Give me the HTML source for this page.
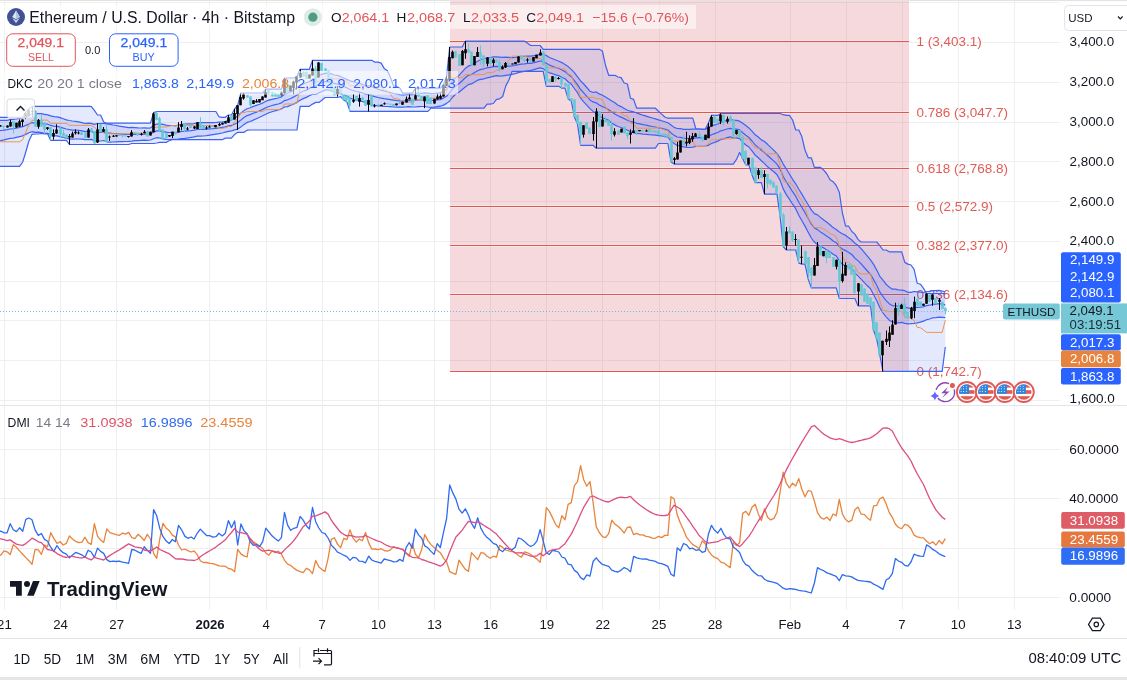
<!DOCTYPE html>
<html><head><meta charset="utf-8"><title>ETHUSD Chart</title>
<style>
html,body{margin:0;padding:0;background:#fff;}
body{width:1127px;height:680px;overflow:hidden;position:relative;font-family:"Liberation Sans",Arial,sans-serif;}
svg text{font-family:"Liberation Sans",Arial,sans-serif;}
svg{will-change:transform;}
</style></head><body>
<svg width="1127" height="680" viewBox="0 0 1127 680" style="position:absolute;left:0;top:0">
<rect x="0" y="0" width="1127" height="680" fill="#ffffff"/>
<rect x="0" y="0" width="1127" height="1" fill="#e3e3e3"/>
<path d="M4.5 1V405M4.5 406V610M60.5 1V405M60.5 406V610M116.5 1V405M116.5 406V610M209.5 1V405M209.5 406V610M266.5 1V405M266.5 406V610M322.5 1V405M322.5 406V610M378.5 1V405M378.5 406V610M434.5 1V405M434.5 406V610M490.5 1V405M490.5 406V610M546.5 1V405M546.5 406V610M602.5 1V405M602.5 406V610M659.5 1V405M659.5 406V610M715.5 1V405M715.5 406V610M790.5 1V405M790.5 406V610M846.5 1V405M846.5 406V610M902.5 1V405M902.5 406V610M958.5 1V405M958.5 406V610M1014.5 1V405M1014.5 406V610M0 2.5H1060M0 42.5H1060M0 82.5H1060M0 122.5H1060M0 161.5H1060M0 201.5H1060M0 241.5H1060M0 281.5H1060M0 320.5H1060M0 360.5H1060M0 400.5H1060M0 449.5H1060M0 498.5H1060M0 548.5H1060M0 597.5H1060" stroke="#efefef" stroke-width="1" fill="none"/>
<rect x="450" y="1" width="459" height="39.7" fill="rgba(210,65,80,0.2)"/>
<rect x="450" y="42.3" width="459" height="69.4" fill="rgba(210,65,80,0.2)"/>
<rect x="450" y="113.3" width="459" height="54.4" fill="rgba(210,65,80,0.2)"/>
<rect x="450" y="169.3" width="459" height="36.4" fill="rgba(210,65,80,0.2)"/>
<rect x="450" y="207.3" width="459" height="37.4" fill="rgba(210,65,80,0.2)"/>
<rect x="450" y="246.3" width="459" height="47.4" fill="rgba(210,65,80,0.2)"/>
<rect x="450" y="295.3" width="459" height="75.4" fill="rgba(210,65,80,0.2)"/>
<path d="M450 41.5H909M450 112.5H909M450 168.5H909M450 206.5H909M450 245.5H909M450 294.5H909M450 371.5H909" stroke="#de5a50" stroke-width="1" fill="none"/>
<text x="916.5" y="45.9" font-size="12.6" fill="#e05c57" textLength="65.3" lengthAdjust="spacingAndGlyphs">1 (3,403.1)</text>
<text x="916.5" y="116.9" font-size="12.6" fill="#e05c57" textLength="91.6" lengthAdjust="spacingAndGlyphs">0.786 (3,047.7)</text>
<text x="916.5" y="172.9" font-size="12.6" fill="#e05c57" textLength="91.6" lengthAdjust="spacingAndGlyphs">0.618 (2,768.8)</text>
<text x="916.5" y="210.9" font-size="12.6" fill="#e05c57" textLength="76.6" lengthAdjust="spacingAndGlyphs">0.5 (2,572.9)</text>
<text x="916.5" y="249.9" font-size="12.6" fill="#e05c57" textLength="91.6" lengthAdjust="spacingAndGlyphs">0.382 (2,377.0)</text>
<text x="916.5" y="298.9" font-size="12.6" fill="#e05c57" textLength="91.6" lengthAdjust="spacingAndGlyphs">0.236 (2,134.6)</text>
<text x="916.5" y="375.9" font-size="12.6" fill="#e05c57" textLength="65.3" lengthAdjust="spacingAndGlyphs">0 (1,742.7)</text>
<polygon points="-5.4,116.4 -2.3,116.4 0.8,117.3 4.0,117.3 7.1,117.3 10.2,117.3 13.3,117.3 16.4,117.3 19.6,117.3 22.7,117.3 25.8,112.0 28.9,109.0 32.0,106.4 35.1,106.4 38.3,106.4 41.4,106.4 44.5,106.4 47.6,106.4 50.7,106.4 53.8,106.4 57.0,106.4 60.1,106.4 63.2,106.4 66.3,106.4 69.4,106.4 72.5,106.4 75.7,106.4 78.8,106.4 81.9,106.4 85.0,106.4 88.1,106.4 91.2,106.4 94.4,110.3 97.5,115.0 100.6,115.0 103.7,122.0 106.8,123.2 109.9,123.2 113.1,123.2 116.2,123.2 119.3,123.2 122.4,123.2 125.5,123.2 128.6,123.2 131.8,123.2 134.9,123.2 138.0,123.2 141.1,123.2 144.2,123.2 147.3,123.2 150.5,123.2 153.6,112.6 156.7,111.5 159.8,111.5 162.9,111.5 166.0,111.5 169.2,111.5 172.3,111.5 175.4,111.5 178.5,111.5 181.6,111.5 184.8,111.5 187.9,111.5 191.0,111.5 194.1,111.5 197.2,111.5 200.3,111.5 203.5,111.5 206.6,111.5 209.7,111.5 212.8,111.5 215.9,111.5 219.0,116.8 222.2,117.3 225.3,117.3 228.4,115.0 231.5,115.0 234.6,109.0 237.7,105.2 240.9,93.0 244.0,93.0 247.1,93.0 250.2,93.0 253.3,93.0 256.4,93.0 259.6,93.0 262.7,93.0 265.8,89.2 268.9,89.2 272.0,89.2 275.1,89.2 278.3,89.2 281.4,89.2 284.5,78.0 287.6,78.0 290.7,78.0 293.8,78.0 297.0,76.5 300.1,69.3 303.2,69.3 306.3,69.3 309.4,69.3 312.5,60.3 315.7,60.3 318.8,60.3 321.9,60.3 325.0,60.3 328.1,60.3 331.3,60.3 334.4,60.3 337.5,60.3 340.6,60.3 343.7,60.3 346.8,60.3 350.0,60.3 353.1,60.3 356.2,60.3 359.3,60.3 362.4,60.3 365.5,60.3 368.7,60.3 371.8,60.3 374.9,62.2 378.0,62.2 381.1,63.1 384.2,68.4 387.4,70.8 390.5,77.5 393.6,86.1 396.7,86.1 399.8,88.0 402.9,93.2 406.1,93.2 409.2,93.2 412.3,93.2 415.4,88.2 418.5,88.2 421.6,88.2 424.8,88.2 427.9,88.2 431.0,88.2 434.1,88.2 437.2,88.2 440.3,88.2 443.5,84.7 446.6,75.9 449.7,47.0 452.8,47.0 455.9,47.0 459.0,47.0 462.2,47.0 465.3,41.1 468.4,41.1 471.5,41.1 474.6,41.1 477.7,41.1 480.9,41.1 484.0,41.1 487.1,41.1 490.2,41.1 493.3,41.1 496.5,41.1 499.6,41.1 502.7,41.1 505.8,41.1 508.9,41.1 512.0,41.1 515.2,41.1 518.3,41.1 521.4,41.1 524.5,41.1 527.6,43.3 530.7,45.5 533.9,45.5 537.0,45.5 540.1,45.5 543.2,49.3 546.3,49.3 549.4,49.3 552.6,49.3 555.7,49.3 558.8,49.3 561.9,49.3 565.0,49.3 568.1,49.3 571.3,49.3 574.4,49.3 577.5,49.3 580.6,49.3 583.7,49.3 586.8,49.3 590.0,49.3 593.1,49.3 596.2,49.3 599.3,49.3 602.4,51.0 605.5,65.3 608.7,75.3 611.8,75.3 614.9,75.3 618.0,77.0 621.1,77.6 624.2,83.0 627.4,84.0 630.5,98.2 633.6,99.4 636.7,108.2 639.8,108.2 643.0,108.2 646.1,108.2 649.2,108.2 652.3,108.2 655.4,108.2 658.5,111.2 661.7,114.1 664.8,117.0 667.9,118.2 671.0,118.2 674.1,118.2 677.2,118.2 680.4,118.2 683.5,118.2 686.6,118.2 689.7,118.2 692.8,118.2 695.9,129.0 699.1,129.0 702.2,129.0 705.3,129.0 708.4,123.0 711.5,115.3 714.6,115.3 717.8,115.3 720.9,113.5 724.0,113.5 727.1,113.5 730.2,113.5 733.3,113.5 736.5,113.5 739.6,113.5 742.7,113.5 745.8,113.5 748.9,113.5 752.0,113.5 755.2,113.5 758.3,113.5 761.4,113.5 764.5,113.5 767.6,113.5 770.7,113.5 773.9,113.5 777.0,113.5 780.1,113.5 783.2,114.7 786.3,115.3 789.4,115.3 792.6,120.0 795.7,130.0 798.8,130.0 801.9,136.8 805.0,150.0 808.2,157.8 811.3,157.8 814.4,167.4 817.5,167.4 820.6,167.4 823.7,170.2 826.9,174.0 830.0,179.8 833.1,181.7 836.2,185.5 839.3,192.2 842.4,213.0 845.6,226.2 848.7,226.2 851.8,231.5 854.9,234.1 858.0,239.4 861.1,242.0 864.3,242.0 867.4,242.0 870.5,242.0 873.6,242.0 876.7,242.0 879.8,245.6 883.0,250.0 886.1,250.0 889.2,251.8 892.3,251.8 895.4,251.8 898.5,251.8 901.7,251.8 904.8,262.4 907.9,264.1 911.0,265.0 914.1,269.4 917.2,283.2 920.4,284.2 923.5,288.4 926.6,293.5 929.7,293.5 932.8,293.5 935.9,293.5 939.1,293.5 942.2,293.5 945.3,293.5 945.3,347.0 942.2,371.4 939.1,371.4 935.9,371.4 932.8,371.4 929.7,371.4 926.6,371.4 923.5,371.4 920.4,371.4 917.2,371.4 914.1,371.4 911.0,371.4 907.9,371.4 904.8,371.4 901.7,371.4 898.5,371.4 895.4,371.4 892.3,371.4 889.2,371.4 886.1,371.4 883.0,371.4 879.8,355.2 876.7,338.8 873.6,330.5 870.5,305.8 867.4,305.8 864.3,305.8 861.1,305.8 858.0,305.8 854.9,298.5 851.8,298.5 848.7,298.5 845.6,298.5 842.4,298.5 839.3,298.5 836.2,287.9 833.1,287.9 830.0,287.9 826.9,287.9 823.7,287.9 820.6,287.9 817.5,287.9 814.4,287.9 811.3,287.9 808.2,279.1 805.0,264.1 801.9,264.1 798.8,263.2 795.7,250.0 792.6,250.0 789.4,250.0 786.3,250.0 783.2,246.5 780.1,216.5 777.0,194.1 773.9,194.1 770.7,194.1 767.6,194.1 764.5,194.1 761.4,182.7 758.3,182.7 755.2,182.7 752.0,175.0 748.9,165.0 745.8,165.0 742.7,158.8 739.6,152.4 736.5,159.4 733.3,164.1 730.2,164.1 727.1,164.1 724.0,164.1 720.9,164.1 717.8,164.1 714.6,164.1 711.5,164.1 708.4,164.1 705.3,164.1 702.2,164.1 699.1,164.1 695.9,164.1 692.8,164.1 689.7,164.1 686.6,164.1 683.5,164.1 680.4,164.1 677.2,164.1 674.1,164.1 671.0,161.8 667.9,143.5 664.8,143.5 661.7,143.5 658.5,143.5 655.4,148.2 652.3,148.2 649.2,148.2 646.1,148.2 643.0,148.2 639.8,148.2 636.7,148.2 633.6,148.2 630.5,148.2 627.4,148.2 624.2,148.2 621.1,148.2 618.0,148.2 614.9,148.2 611.8,148.2 608.7,148.2 605.5,148.2 602.4,148.2 599.3,148.2 596.2,148.2 593.1,145.3 590.0,145.3 586.8,145.3 583.7,145.3 580.6,145.3 577.5,124.1 574.4,117.0 571.3,101.2 568.1,98.8 565.0,88.2 561.9,88.2 558.8,86.3 555.7,86.3 552.6,86.3 549.4,86.3 546.3,86.3 543.2,71.4 540.1,71.4 537.0,71.4 533.9,71.4 530.7,71.4 527.6,71.4 524.5,71.4 521.4,71.4 518.3,71.4 515.2,71.4 512.0,71.4 508.9,80.0 505.8,85.9 502.7,96.5 499.6,98.8 496.5,99.4 493.3,103.5 490.2,104.1 487.1,104.1 484.0,108.2 480.9,108.2 477.7,108.2 474.6,108.2 471.5,108.2 468.4,108.2 465.3,108.2 462.2,108.2 459.0,108.2 455.9,108.2 452.8,108.2 449.7,108.2 446.6,108.2 443.5,108.2 440.3,108.2 437.2,108.2 434.1,108.2 431.0,108.2 427.9,111.4 424.8,111.4 421.6,111.4 418.5,111.4 415.4,111.4 412.3,111.4 409.2,111.4 406.1,111.4 402.9,111.4 399.8,111.4 396.7,111.4 393.6,111.4 390.5,111.4 387.4,111.4 384.2,111.4 381.1,111.4 378.0,111.4 374.9,111.4 371.8,111.4 368.7,111.4 365.5,111.4 362.4,111.4 359.3,111.4 356.2,111.4 353.1,111.4 350.0,111.4 346.8,101.8 343.7,100.0 340.6,96.6 337.5,97.5 334.4,97.5 331.3,97.5 328.1,97.5 325.0,97.5 321.9,100.2 318.8,102.4 315.7,102.4 312.5,104.1 309.4,106.3 306.3,106.3 303.2,106.3 300.1,106.3 297.0,130.0 293.8,130.0 290.7,130.0 287.6,130.0 284.5,130.0 281.4,130.0 278.3,130.0 275.1,130.0 272.0,130.0 268.9,130.0 265.8,130.0 262.7,130.0 259.6,130.0 256.4,130.0 253.3,130.0 250.2,130.0 247.1,130.2 244.0,132.3 240.9,132.3 237.7,132.3 234.6,134.4 231.5,138.1 228.4,138.1 225.3,138.1 222.2,139.7 219.0,139.7 215.9,139.7 212.8,139.7 209.7,139.7 206.6,139.7 203.5,139.7 200.3,139.7 197.2,139.7 194.1,139.7 191.0,139.7 187.9,139.7 184.8,139.7 181.6,139.7 178.5,139.7 175.4,139.7 172.3,139.7 169.2,140.8 166.0,142.4 162.9,142.4 159.8,142.4 156.7,143.0 153.6,143.5 150.5,143.5 147.3,143.5 144.2,143.5 141.1,143.5 138.0,143.5 134.9,143.5 131.8,143.5 128.6,144.5 125.5,144.5 122.4,144.5 119.3,144.5 116.2,144.5 113.1,144.5 109.9,144.5 106.8,144.5 103.7,144.5 100.6,144.5 97.5,144.5 94.4,144.5 91.2,144.5 88.1,144.5 85.0,144.5 81.9,144.5 78.8,144.5 75.7,144.5 72.5,144.5 69.4,144.5 66.3,140.4 63.2,140.4 60.1,140.4 57.0,140.4 53.8,140.4 50.7,140.4 47.6,133.8 44.5,133.8 41.4,133.5 38.3,134.0 35.1,134.0 32.0,134.4 28.9,141.0 25.8,152.0 22.7,162.0 19.6,166.4 16.4,166.4 13.3,166.4 10.2,166.4 7.1,166.4 4.0,166.4 0.8,166.4 -2.3,166.4 -5.4,166.4" fill="rgba(55,85,240,0.13)"/>
<polygon points="-5.4,120.7 -2.3,120.5 0.8,120.4 4.0,120.4 7.1,120.3 10.2,119.7 13.3,119.3 16.4,119.0 19.6,118.4 22.7,117.7 25.8,116.5 28.9,115.1 32.0,113.8 35.1,113.8 38.3,113.5 41.4,113.7 44.5,114.3 47.6,114.9 50.7,115.9 53.8,116.6 57.0,116.9 60.1,117.6 63.2,118.7 66.3,119.9 69.4,120.5 72.5,121.0 75.7,121.4 78.8,121.9 81.9,122.6 85.0,123.5 88.1,123.2 91.2,123.4 94.4,124.4 97.5,123.5 100.6,123.5 103.7,123.4 106.8,123.9 109.9,124.4 113.1,125.0 116.2,125.5 119.3,126.1 122.4,126.6 125.5,127.1 128.6,127.6 131.8,127.4 134.9,127.6 138.0,127.9 141.1,128.0 144.2,127.9 147.3,128.2 150.5,128.0 153.6,125.4 156.7,124.1 159.8,123.8 162.9,124.4 166.0,125.1 169.2,125.5 172.3,125.5 175.4,125.9 178.5,125.1 181.6,124.3 184.8,124.0 187.9,123.9 191.0,123.9 194.1,123.7 197.2,122.9 200.3,122.5 203.5,122.6 206.6,122.6 209.7,122.5 212.8,122.6 215.9,122.5 219.0,122.2 222.2,121.9 225.3,121.5 228.4,120.4 231.5,119.9 234.6,118.4 237.7,115.7 240.9,113.0 244.0,110.6 247.1,108.8 250.2,107.7 253.3,106.4 256.4,105.4 259.6,104.3 262.7,103.1 265.8,101.3 268.9,100.1 272.0,99.3 275.1,98.6 278.3,98.0 281.4,96.9 284.5,94.2 287.6,93.0 290.7,91.7 293.8,89.8 297.0,87.5 300.1,85.4 303.2,84.0 306.3,82.8 309.4,81.5 312.5,79.2 315.7,78.4 318.8,75.4 321.9,74.2 325.0,73.3 328.1,73.1 331.3,73.8 334.4,75.0 337.5,75.4 340.6,76.5 343.7,78.0 346.8,79.4 350.0,80.8 353.1,81.6 356.2,82.8 359.3,83.2 362.4,84.3 365.5,85.7 368.7,85.8 371.8,86.8 374.9,88.0 378.0,89.1 381.1,90.2 384.2,90.9 387.4,91.8 390.5,92.6 393.6,93.5 396.7,94.0 399.8,94.6 402.9,94.9 406.1,94.7 409.2,94.4 412.3,94.7 415.4,93.7 418.5,93.3 421.6,93.4 424.8,92.8 427.9,93.2 431.0,93.6 434.1,93.5 437.2,93.2 440.3,92.9 443.5,91.2 446.6,89.2 449.7,84.2 452.8,80.3 455.9,77.4 459.0,75.4 462.2,71.9 465.3,68.4 468.4,66.1 471.5,64.9 474.6,63.1 477.7,61.2 480.9,59.4 484.0,58.8 487.1,57.7 490.2,57.6 493.3,56.9 496.5,56.9 499.6,57.1 502.7,57.4 505.8,57.2 508.9,57.4 512.0,57.6 515.2,57.5 518.3,56.7 521.4,56.4 524.5,56.4 527.6,56.1 530.7,56.1 533.9,55.7 537.0,55.1 540.1,54.3 543.2,54.3 546.3,55.5 549.4,57.5 552.6,58.7 555.7,60.0 558.8,61.2 561.9,62.6 565.0,64.4 568.1,66.6 571.3,69.4 574.4,72.7 577.5,76.8 580.6,80.8 583.7,84.0 586.8,87.5 590.0,91.3 593.1,92.5 596.2,91.9 599.3,93.9 602.4,95.2 605.5,97.0 608.7,99.0 611.8,100.9 614.9,102.8 618.0,105.2 621.1,106.6 624.2,108.4 627.4,110.2 630.5,111.2 633.6,111.8 636.7,113.0 639.8,114.1 643.0,115.2 646.1,116.1 649.2,117.1 652.3,118.0 655.4,118.9 658.5,119.8 661.7,120.8 664.8,121.8 667.9,122.8 671.0,125.0 674.1,127.4 677.2,128.5 680.4,128.7 683.5,129.4 686.6,129.4 689.7,129.4 692.8,129.2 695.9,129.0 699.1,129.0 702.2,129.5 705.3,129.3 708.4,127.9 711.5,125.9 714.6,124.9 717.8,124.0 720.9,122.2 724.0,121.3 727.1,120.3 730.2,119.7 733.3,120.1 736.5,120.3 739.6,121.2 742.7,123.3 745.8,125.6 748.9,127.9 752.0,131.1 755.2,134.8 758.3,137.0 761.4,139.9 764.5,141.5 767.6,144.3 770.7,147.4 773.9,150.4 777.0,153.6 780.1,157.9 783.2,164.1 786.3,168.8 789.4,174.0 792.6,179.3 795.7,183.8 798.8,189.2 801.9,194.1 805.0,199.5 808.2,204.8 811.3,209.9 814.4,213.6 817.5,214.9 820.6,217.6 823.7,219.9 826.9,222.2 830.0,224.7 833.1,227.6 836.2,229.5 839.3,232.0 842.4,233.8 845.6,235.4 848.7,237.7 851.8,240.0 854.9,243.3 858.0,245.3 861.1,248.7 864.3,252.4 867.4,256.1 870.5,259.8 873.6,264.4 876.7,270.0 879.8,276.3 883.0,280.2 886.1,284.3 889.2,287.1 892.3,289.2 895.4,289.2 898.5,289.9 901.7,290.2 904.8,290.7 907.9,292.3 911.0,292.4 914.1,291.5 917.2,291.8 920.4,292.2 923.5,292.6 926.6,291.5 929.7,291.4 932.8,290.5 935.9,290.7 939.1,290.3 942.2,291.0 945.3,292.0 945.3,317.7 942.2,317.4 939.1,317.1 935.9,317.6 932.8,317.8 929.7,319.0 926.6,319.7 923.5,321.1 920.4,322.1 917.2,322.8 914.1,323.4 911.0,323.7 907.9,323.9 904.8,323.3 901.7,322.4 898.5,322.9 895.4,322.5 892.3,322.0 889.2,320.2 886.1,316.9 883.0,313.0 879.8,307.6 876.7,300.5 873.6,294.8 870.5,288.8 867.4,285.8 864.3,282.6 861.1,279.1 858.0,275.9 854.9,273.1 851.8,269.0 848.7,267.1 845.6,265.8 842.4,264.4 839.3,260.9 836.2,255.9 833.1,254.3 830.0,251.8 826.9,250.1 823.7,247.9 820.6,246.6 817.5,244.4 814.4,242.1 811.3,238.0 808.2,232.3 805.0,226.1 801.9,220.7 798.8,215.2 795.7,208.7 792.6,204.2 789.4,199.2 786.3,194.6 783.2,188.9 780.1,180.4 777.0,174.7 773.9,171.7 770.7,169.2 767.6,166.8 764.5,163.6 761.4,160.7 758.3,157.8 755.2,155.2 752.0,150.9 748.9,147.0 745.8,145.0 742.7,142.1 739.6,138.7 736.5,137.9 733.3,138.0 730.2,136.8 727.1,137.6 724.0,138.8 720.9,139.5 717.8,141.1 714.6,142.4 711.5,143.5 708.4,145.3 705.3,146.0 702.2,146.4 699.1,146.3 695.9,146.5 692.8,147.2 689.7,147.5 686.6,147.5 683.5,146.9 680.4,146.0 677.2,145.5 674.1,143.4 671.0,141.1 667.9,137.2 664.8,136.6 661.7,136.0 658.5,135.7 655.4,135.1 652.3,134.9 649.2,134.7 646.1,134.3 643.0,134.1 639.8,133.7 636.7,133.5 633.6,132.8 630.5,131.7 627.4,130.3 624.2,128.9 621.1,127.5 618.0,126.5 614.9,124.9 611.8,123.2 608.7,120.4 605.5,119.0 602.4,117.8 599.3,116.3 596.2,113.8 593.1,111.4 590.0,108.6 586.8,105.1 583.7,101.8 580.6,98.2 577.5,92.7 574.4,88.5 571.3,84.1 568.1,81.8 565.0,78.8 561.9,77.4 558.8,75.7 555.7,74.9 552.6,73.7 549.4,72.8 546.3,71.2 543.2,68.6 540.1,67.8 537.0,68.7 533.9,69.6 530.7,70.4 527.6,70.8 524.5,71.3 521.4,71.9 518.3,72.6 515.2,73.6 512.0,74.3 508.9,74.9 505.8,75.4 502.7,75.9 499.6,76.1 496.5,75.6 493.3,76.4 490.2,77.2 487.1,77.8 484.0,78.9 480.9,79.3 477.7,80.2 474.6,82.1 471.5,83.9 468.4,84.6 465.3,87.0 462.2,89.5 459.0,92.3 455.9,94.0 452.8,97.0 449.7,101.0 446.6,103.4 443.5,105.1 440.3,106.2 437.2,106.7 434.1,107.1 431.0,107.3 427.9,107.0 424.8,106.5 421.6,106.5 418.5,106.7 415.4,107.0 412.3,107.0 409.2,106.6 406.1,106.9 402.9,107.1 399.8,107.2 396.7,107.1 393.6,107.0 390.5,106.7 387.4,106.5 384.2,106.4 381.1,106.2 378.0,105.8 374.9,105.4 371.8,104.8 368.7,103.5 365.5,102.5 362.4,101.4 359.3,100.9 356.2,100.1 353.1,99.3 350.0,98.1 346.8,96.1 343.7,94.9 340.6,93.6 337.5,92.9 334.4,92.3 331.3,91.1 328.1,89.8 325.0,90.1 321.9,91.6 318.8,92.9 315.7,94.5 312.5,94.3 309.4,95.8 306.3,97.4 303.2,98.6 300.1,100.3 297.0,102.3 293.8,104.0 290.7,105.2 287.6,106.6 284.5,107.0 281.4,108.9 278.3,110.0 275.1,110.8 272.0,111.8 268.9,112.8 265.8,114.2 262.7,115.8 259.6,117.3 256.4,118.7 253.3,120.1 250.2,121.5 247.1,122.4 244.0,124.5 240.9,126.9 237.7,129.1 234.6,129.9 231.5,130.8 228.4,131.4 225.3,132.2 222.2,133.0 219.0,133.7 215.9,134.2 212.8,134.7 209.7,135.2 206.6,135.7 203.5,136.0 200.3,136.2 197.2,136.1 194.1,136.8 191.0,137.4 187.9,137.9 184.8,138.3 181.6,138.5 178.5,139.1 175.4,139.4 172.3,139.4 169.2,139.5 166.0,139.4 162.9,138.9 159.8,138.0 156.7,137.7 153.6,138.7 150.5,140.0 147.3,140.3 144.2,140.1 141.1,140.4 138.0,140.7 134.9,140.7 131.8,141.1 128.6,141.4 125.5,141.5 122.4,141.6 119.3,141.6 116.2,141.8 113.1,142.0 109.9,142.1 106.8,141.8 103.7,140.5 100.6,141.0 97.5,141.1 94.4,140.8 91.2,139.4 88.1,139.6 85.0,139.7 81.9,139.1 78.8,139.0 75.7,139.0 72.5,139.1 69.4,138.9 66.3,138.1 63.2,137.5 60.1,136.7 57.0,135.9 53.8,135.6 50.7,134.8 47.6,133.4 44.5,133.4 41.4,132.6 38.3,132.2 35.1,132.4 32.0,131.7 28.9,132.8 25.8,134.4 22.7,135.8 19.6,136.6 16.4,137.4 13.3,138.2 10.2,138.3 7.1,139.1 4.0,139.9 0.8,140.6 -2.3,141.6 -5.4,142.4" fill="rgba(55,85,240,0.12)"/>
<polyline points="-5.4,116.4 -2.3,116.4 0.8,117.3 4.0,117.3 7.1,117.3 10.2,117.3 13.3,117.3 16.4,117.3 19.6,117.3 22.7,117.3 25.8,112.0 28.9,109.0 32.0,106.4 35.1,106.4 38.3,106.4 41.4,106.4 44.5,106.4 47.6,106.4 50.7,106.4 53.8,106.4 57.0,106.4 60.1,106.4 63.2,106.4 66.3,106.4 69.4,106.4 72.5,106.4 75.7,106.4 78.8,106.4 81.9,106.4 85.0,106.4 88.1,106.4 91.2,106.4 94.4,110.3 97.5,115.0 100.6,115.0 103.7,122.0 106.8,123.2 109.9,123.2 113.1,123.2 116.2,123.2 119.3,123.2 122.4,123.2 125.5,123.2 128.6,123.2 131.8,123.2 134.9,123.2 138.0,123.2 141.1,123.2 144.2,123.2 147.3,123.2 150.5,123.2 153.6,112.6 156.7,111.5 159.8,111.5 162.9,111.5 166.0,111.5 169.2,111.5 172.3,111.5 175.4,111.5 178.5,111.5 181.6,111.5 184.8,111.5 187.9,111.5 191.0,111.5 194.1,111.5 197.2,111.5 200.3,111.5 203.5,111.5 206.6,111.5 209.7,111.5 212.8,111.5 215.9,111.5 219.0,116.8 222.2,117.3 225.3,117.3 228.4,115.0 231.5,115.0 234.6,109.0 237.7,105.2 240.9,93.0 244.0,93.0 247.1,93.0 250.2,93.0 253.3,93.0 256.4,93.0 259.6,93.0 262.7,93.0 265.8,89.2 268.9,89.2 272.0,89.2 275.1,89.2 278.3,89.2 281.4,89.2 284.5,78.0 287.6,78.0 290.7,78.0 293.8,78.0 297.0,76.5 300.1,69.3 303.2,69.3 306.3,69.3 309.4,69.3 312.5,60.3 315.7,60.3 318.8,60.3 321.9,60.3 325.0,60.3 328.1,60.3 331.3,60.3 334.4,60.3 337.5,60.3 340.6,60.3 343.7,60.3 346.8,60.3 350.0,60.3 353.1,60.3 356.2,60.3 359.3,60.3 362.4,60.3 365.5,60.3 368.7,60.3 371.8,60.3 374.9,62.2 378.0,62.2 381.1,63.1 384.2,68.4 387.4,70.8 390.5,77.5 393.6,86.1 396.7,86.1 399.8,88.0 402.9,93.2 406.1,93.2 409.2,93.2 412.3,93.2 415.4,88.2 418.5,88.2 421.6,88.2 424.8,88.2 427.9,88.2 431.0,88.2 434.1,88.2 437.2,88.2 440.3,88.2 443.5,84.7 446.6,75.9 449.7,47.0 452.8,47.0 455.9,47.0 459.0,47.0 462.2,47.0 465.3,41.1 468.4,41.1 471.5,41.1 474.6,41.1 477.7,41.1 480.9,41.1 484.0,41.1 487.1,41.1 490.2,41.1 493.3,41.1 496.5,41.1 499.6,41.1 502.7,41.1 505.8,41.1 508.9,41.1 512.0,41.1 515.2,41.1 518.3,41.1 521.4,41.1 524.5,41.1 527.6,43.3 530.7,45.5 533.9,45.5 537.0,45.5 540.1,45.5 543.2,49.3 546.3,49.3 549.4,49.3 552.6,49.3 555.7,49.3 558.8,49.3 561.9,49.3 565.0,49.3 568.1,49.3 571.3,49.3 574.4,49.3 577.5,49.3 580.6,49.3 583.7,49.3 586.8,49.3 590.0,49.3 593.1,49.3 596.2,49.3 599.3,49.3 602.4,51.0 605.5,65.3 608.7,75.3 611.8,75.3 614.9,75.3 618.0,77.0 621.1,77.6 624.2,83.0 627.4,84.0 630.5,98.2 633.6,99.4 636.7,108.2 639.8,108.2 643.0,108.2 646.1,108.2 649.2,108.2 652.3,108.2 655.4,108.2 658.5,111.2 661.7,114.1 664.8,117.0 667.9,118.2 671.0,118.2 674.1,118.2 677.2,118.2 680.4,118.2 683.5,118.2 686.6,118.2 689.7,118.2 692.8,118.2 695.9,129.0 699.1,129.0 702.2,129.0 705.3,129.0 708.4,123.0 711.5,115.3 714.6,115.3 717.8,115.3 720.9,113.5 724.0,113.5 727.1,113.5 730.2,113.5 733.3,113.5 736.5,113.5 739.6,113.5 742.7,113.5 745.8,113.5 748.9,113.5 752.0,113.5 755.2,113.5 758.3,113.5 761.4,113.5 764.5,113.5 767.6,113.5 770.7,113.5 773.9,113.5 777.0,113.5 780.1,113.5 783.2,114.7 786.3,115.3 789.4,115.3 792.6,120.0 795.7,130.0 798.8,130.0 801.9,136.8 805.0,150.0 808.2,157.8 811.3,157.8 814.4,167.4 817.5,167.4 820.6,167.4 823.7,170.2 826.9,174.0 830.0,179.8 833.1,181.7 836.2,185.5 839.3,192.2 842.4,213.0 845.6,226.2 848.7,226.2 851.8,231.5 854.9,234.1 858.0,239.4 861.1,242.0 864.3,242.0 867.4,242.0 870.5,242.0 873.6,242.0 876.7,242.0 879.8,245.6 883.0,250.0 886.1,250.0 889.2,251.8 892.3,251.8 895.4,251.8 898.5,251.8 901.7,251.8 904.8,262.4 907.9,264.1 911.0,265.0 914.1,269.4 917.2,283.2 920.4,284.2 923.5,288.4 926.6,293.5 929.7,293.5 932.8,293.5 935.9,293.5 939.1,293.5 942.2,293.5 945.3,293.5" fill="none" stroke="#3d63f2" stroke-width="1.2" stroke-linejoin="round"/>
<polyline points="-5.4,166.4 -2.3,166.4 0.8,166.4 4.0,166.4 7.1,166.4 10.2,166.4 13.3,166.4 16.4,166.4 19.6,166.4 22.7,162.0 25.8,152.0 28.9,141.0 32.0,134.4 35.1,134.0 38.3,134.0 41.4,133.5 44.5,133.8 47.6,133.8 50.7,140.4 53.8,140.4 57.0,140.4 60.1,140.4 63.2,140.4 66.3,140.4 69.4,144.5 72.5,144.5 75.7,144.5 78.8,144.5 81.9,144.5 85.0,144.5 88.1,144.5 91.2,144.5 94.4,144.5 97.5,144.5 100.6,144.5 103.7,144.5 106.8,144.5 109.9,144.5 113.1,144.5 116.2,144.5 119.3,144.5 122.4,144.5 125.5,144.5 128.6,144.5 131.8,143.5 134.9,143.5 138.0,143.5 141.1,143.5 144.2,143.5 147.3,143.5 150.5,143.5 153.6,143.5 156.7,143.0 159.8,142.4 162.9,142.4 166.0,142.4 169.2,140.8 172.3,139.7 175.4,139.7 178.5,139.7 181.6,139.7 184.8,139.7 187.9,139.7 191.0,139.7 194.1,139.7 197.2,139.7 200.3,139.7 203.5,139.7 206.6,139.7 209.7,139.7 212.8,139.7 215.9,139.7 219.0,139.7 222.2,139.7 225.3,138.1 228.4,138.1 231.5,138.1 234.6,134.4 237.7,132.3 240.9,132.3 244.0,132.3 247.1,130.2 250.2,130.0 253.3,130.0 256.4,130.0 259.6,130.0 262.7,130.0 265.8,130.0 268.9,130.0 272.0,130.0 275.1,130.0 278.3,130.0 281.4,130.0 284.5,130.0 287.6,130.0 290.7,130.0 293.8,130.0 297.0,130.0 300.1,106.3 303.2,106.3 306.3,106.3 309.4,106.3 312.5,104.1 315.7,102.4 318.8,102.4 321.9,100.2 325.0,97.5 328.1,97.5 331.3,97.5 334.4,97.5 337.5,97.5 340.6,96.6 343.7,100.0 346.8,101.8 350.0,111.4 353.1,111.4 356.2,111.4 359.3,111.4 362.4,111.4 365.5,111.4 368.7,111.4 371.8,111.4 374.9,111.4 378.0,111.4 381.1,111.4 384.2,111.4 387.4,111.4 390.5,111.4 393.6,111.4 396.7,111.4 399.8,111.4 402.9,111.4 406.1,111.4 409.2,111.4 412.3,111.4 415.4,111.4 418.5,111.4 421.6,111.4 424.8,111.4 427.9,111.4 431.0,108.2 434.1,108.2 437.2,108.2 440.3,108.2 443.5,108.2 446.6,108.2 449.7,108.2 452.8,108.2 455.9,108.2 459.0,108.2 462.2,108.2 465.3,108.2 468.4,108.2 471.5,108.2 474.6,108.2 477.7,108.2 480.9,108.2 484.0,108.2 487.1,104.1 490.2,104.1 493.3,103.5 496.5,99.4 499.6,98.8 502.7,96.5 505.8,85.9 508.9,80.0 512.0,71.4 515.2,71.4 518.3,71.4 521.4,71.4 524.5,71.4 527.6,71.4 530.7,71.4 533.9,71.4 537.0,71.4 540.1,71.4 543.2,71.4 546.3,86.3 549.4,86.3 552.6,86.3 555.7,86.3 558.8,86.3 561.9,88.2 565.0,88.2 568.1,98.8 571.3,101.2 574.4,117.0 577.5,124.1 580.6,145.3 583.7,145.3 586.8,145.3 590.0,145.3 593.1,145.3 596.2,148.2 599.3,148.2 602.4,148.2 605.5,148.2 608.7,148.2 611.8,148.2 614.9,148.2 618.0,148.2 621.1,148.2 624.2,148.2 627.4,148.2 630.5,148.2 633.6,148.2 636.7,148.2 639.8,148.2 643.0,148.2 646.1,148.2 649.2,148.2 652.3,148.2 655.4,148.2 658.5,143.5 661.7,143.5 664.8,143.5 667.9,143.5 671.0,161.8 674.1,164.1 677.2,164.1 680.4,164.1 683.5,164.1 686.6,164.1 689.7,164.1 692.8,164.1 695.9,164.1 699.1,164.1 702.2,164.1 705.3,164.1 708.4,164.1 711.5,164.1 714.6,164.1 717.8,164.1 720.9,164.1 724.0,164.1 727.1,164.1 730.2,164.1 733.3,164.1 736.5,159.4 739.6,152.4 742.7,158.8 745.8,165.0 748.9,165.0 752.0,175.0 755.2,182.7 758.3,182.7 761.4,182.7 764.5,194.1 767.6,194.1 770.7,194.1 773.9,194.1 777.0,194.1 780.1,216.5 783.2,246.5 786.3,250.0 789.4,250.0 792.6,250.0 795.7,250.0 798.8,263.2 801.9,264.1 805.0,264.1 808.2,279.1 811.3,287.9 814.4,287.9 817.5,287.9 820.6,287.9 823.7,287.9 826.9,287.9 830.0,287.9 833.1,287.9 836.2,287.9 839.3,298.5 842.4,298.5 845.6,298.5 848.7,298.5 851.8,298.5 854.9,298.5 858.0,305.8 861.1,305.8 864.3,305.8 867.4,305.8 870.5,305.8 873.6,330.5 876.7,338.8 879.8,355.2 883.0,371.4 886.1,371.4 889.2,371.4 892.3,371.4 895.4,371.4 898.5,371.4 901.7,371.4 904.8,371.4 907.9,371.4 911.0,371.4 914.1,371.4 917.2,371.4 920.4,371.4 923.5,371.4 926.6,371.4 929.7,371.4 932.8,371.4 935.9,371.4 939.1,371.4 942.2,371.4 945.3,347.0" fill="none" stroke="#3d63f2" stroke-width="1.2" stroke-linejoin="round"/>
<polyline points="-5.4,120.7 -2.3,120.5 0.8,120.4 4.0,120.4 7.1,120.3 10.2,119.7 13.3,119.3 16.4,119.0 19.6,118.4 22.7,117.7 25.8,116.5 28.9,115.1 32.0,113.8 35.1,113.8 38.3,113.5 41.4,113.7 44.5,114.3 47.6,114.9 50.7,115.9 53.8,116.6 57.0,116.9 60.1,117.6 63.2,118.7 66.3,119.9 69.4,120.5 72.5,121.0 75.7,121.4 78.8,121.9 81.9,122.6 85.0,123.5 88.1,123.2 91.2,123.4 94.4,124.4 97.5,123.5 100.6,123.5 103.7,123.4 106.8,123.9 109.9,124.4 113.1,125.0 116.2,125.5 119.3,126.1 122.4,126.6 125.5,127.1 128.6,127.6 131.8,127.4 134.9,127.6 138.0,127.9 141.1,128.0 144.2,127.9 147.3,128.2 150.5,128.0 153.6,125.4 156.7,124.1 159.8,123.8 162.9,124.4 166.0,125.1 169.2,125.5 172.3,125.5 175.4,125.9 178.5,125.1 181.6,124.3 184.8,124.0 187.9,123.9 191.0,123.9 194.1,123.7 197.2,122.9 200.3,122.5 203.5,122.6 206.6,122.6 209.7,122.5 212.8,122.6 215.9,122.5 219.0,122.2 222.2,121.9 225.3,121.5 228.4,120.4 231.5,119.9 234.6,118.4 237.7,115.7 240.9,113.0 244.0,110.6 247.1,108.8 250.2,107.7 253.3,106.4 256.4,105.4 259.6,104.3 262.7,103.1 265.8,101.3 268.9,100.1 272.0,99.3 275.1,98.6 278.3,98.0 281.4,96.9 284.5,94.2 287.6,93.0 290.7,91.7 293.8,89.8 297.0,87.5 300.1,85.4 303.2,84.0 306.3,82.8 309.4,81.5 312.5,79.2 315.7,78.4 318.8,75.4 321.9,74.2 325.0,73.3 328.1,73.1 331.3,73.8 334.4,75.0 337.5,75.4 340.6,76.5 343.7,78.0 346.8,79.4 350.0,80.8 353.1,81.6 356.2,82.8 359.3,83.2 362.4,84.3 365.5,85.7 368.7,85.8 371.8,86.8 374.9,88.0 378.0,89.1 381.1,90.2 384.2,90.9 387.4,91.8 390.5,92.6 393.6,93.5 396.7,94.0 399.8,94.6 402.9,94.9 406.1,94.7 409.2,94.4 412.3,94.7 415.4,93.7 418.5,93.3 421.6,93.4 424.8,92.8 427.9,93.2 431.0,93.6 434.1,93.5 437.2,93.2 440.3,92.9 443.5,91.2 446.6,89.2 449.7,84.2 452.8,80.3 455.9,77.4 459.0,75.4 462.2,71.9 465.3,68.4 468.4,66.1 471.5,64.9 474.6,63.1 477.7,61.2 480.9,59.4 484.0,58.8 487.1,57.7 490.2,57.6 493.3,56.9 496.5,56.9 499.6,57.1 502.7,57.4 505.8,57.2 508.9,57.4 512.0,57.6 515.2,57.5 518.3,56.7 521.4,56.4 524.5,56.4 527.6,56.1 530.7,56.1 533.9,55.7 537.0,55.1 540.1,54.3 543.2,54.3 546.3,55.5 549.4,57.5 552.6,58.7 555.7,60.0 558.8,61.2 561.9,62.6 565.0,64.4 568.1,66.6 571.3,69.4 574.4,72.7 577.5,76.8 580.6,80.8 583.7,84.0 586.8,87.5 590.0,91.3 593.1,92.5 596.2,91.9 599.3,93.9 602.4,95.2 605.5,97.0 608.7,99.0 611.8,100.9 614.9,102.8 618.0,105.2 621.1,106.6 624.2,108.4 627.4,110.2 630.5,111.2 633.6,111.8 636.7,113.0 639.8,114.1 643.0,115.2 646.1,116.1 649.2,117.1 652.3,118.0 655.4,118.9 658.5,119.8 661.7,120.8 664.8,121.8 667.9,122.8 671.0,125.0 674.1,127.4 677.2,128.5 680.4,128.7 683.5,129.4 686.6,129.4 689.7,129.4 692.8,129.2 695.9,129.0 699.1,129.0 702.2,129.5 705.3,129.3 708.4,127.9 711.5,125.9 714.6,124.9 717.8,124.0 720.9,122.2 724.0,121.3 727.1,120.3 730.2,119.7 733.3,120.1 736.5,120.3 739.6,121.2 742.7,123.3 745.8,125.6 748.9,127.9 752.0,131.1 755.2,134.8 758.3,137.0 761.4,139.9 764.5,141.5 767.6,144.3 770.7,147.4 773.9,150.4 777.0,153.6 780.1,157.9 783.2,164.1 786.3,168.8 789.4,174.0 792.6,179.3 795.7,183.8 798.8,189.2 801.9,194.1 805.0,199.5 808.2,204.8 811.3,209.9 814.4,213.6 817.5,214.9 820.6,217.6 823.7,219.9 826.9,222.2 830.0,224.7 833.1,227.6 836.2,229.5 839.3,232.0 842.4,233.8 845.6,235.4 848.7,237.7 851.8,240.0 854.9,243.3 858.0,245.3 861.1,248.7 864.3,252.4 867.4,256.1 870.5,259.8 873.6,264.4 876.7,270.0 879.8,276.3 883.0,280.2 886.1,284.3 889.2,287.1 892.3,289.2 895.4,289.2 898.5,289.9 901.7,290.2 904.8,290.7 907.9,292.3 911.0,292.4 914.1,291.5 917.2,291.8 920.4,292.2 923.5,292.6 926.6,291.5 929.7,291.4 932.8,290.5 935.9,290.7 939.1,290.3 942.2,291.0 945.3,292.0" fill="none" stroke="#3d63f2" stroke-width="1.2" stroke-linejoin="round"/>
<polyline points="-5.4,142.4 -2.3,141.6 0.8,140.6 4.0,139.9 7.1,139.1 10.2,138.3 13.3,138.2 16.4,137.4 19.6,136.6 22.7,135.8 25.8,134.4 28.9,132.8 32.0,131.7 35.1,132.4 38.3,132.2 41.4,132.6 44.5,133.4 47.6,133.4 50.7,134.8 53.8,135.6 57.0,135.9 60.1,136.7 63.2,137.5 66.3,138.1 69.4,138.9 72.5,139.1 75.7,139.0 78.8,139.0 81.9,139.1 85.0,139.7 88.1,139.6 91.2,139.4 94.4,140.8 97.5,141.1 100.6,141.0 103.7,140.5 106.8,141.8 109.9,142.1 113.1,142.0 116.2,141.8 119.3,141.6 122.4,141.6 125.5,141.5 128.6,141.4 131.8,141.1 134.9,140.7 138.0,140.7 141.1,140.4 144.2,140.1 147.3,140.3 150.5,140.0 153.6,138.7 156.7,137.7 159.8,138.0 162.9,138.9 166.0,139.4 169.2,139.5 172.3,139.4 175.4,139.4 178.5,139.1 181.6,138.5 184.8,138.3 187.9,137.9 191.0,137.4 194.1,136.8 197.2,136.1 200.3,136.2 203.5,136.0 206.6,135.7 209.7,135.2 212.8,134.7 215.9,134.2 219.0,133.7 222.2,133.0 225.3,132.2 228.4,131.4 231.5,130.8 234.6,129.9 237.7,129.1 240.9,126.9 244.0,124.5 247.1,122.4 250.2,121.5 253.3,120.1 256.4,118.7 259.6,117.3 262.7,115.8 265.8,114.2 268.9,112.8 272.0,111.8 275.1,110.8 278.3,110.0 281.4,108.9 284.5,107.0 287.6,106.6 290.7,105.2 293.8,104.0 297.0,102.3 300.1,100.3 303.2,98.6 306.3,97.4 309.4,95.8 312.5,94.3 315.7,94.5 318.8,92.9 321.9,91.6 325.0,90.1 328.1,89.8 331.3,91.1 334.4,92.3 337.5,92.9 340.6,93.6 343.7,94.9 346.8,96.1 350.0,98.1 353.1,99.3 356.2,100.1 359.3,100.9 362.4,101.4 365.5,102.5 368.7,103.5 371.8,104.8 374.9,105.4 378.0,105.8 381.1,106.2 384.2,106.4 387.4,106.5 390.5,106.7 393.6,107.0 396.7,107.1 399.8,107.2 402.9,107.1 406.1,106.9 409.2,106.6 412.3,107.0 415.4,107.0 418.5,106.7 421.6,106.5 424.8,106.5 427.9,107.0 431.0,107.3 434.1,107.1 437.2,106.7 440.3,106.2 443.5,105.1 446.6,103.4 449.7,101.0 452.8,97.0 455.9,94.0 459.0,92.3 462.2,89.5 465.3,87.0 468.4,84.6 471.5,83.9 474.6,82.1 477.7,80.2 480.9,79.3 484.0,78.9 487.1,77.8 490.2,77.2 493.3,76.4 496.5,75.6 499.6,76.1 502.7,75.9 505.8,75.4 508.9,74.9 512.0,74.3 515.2,73.6 518.3,72.6 521.4,71.9 524.5,71.3 527.6,70.8 530.7,70.4 533.9,69.6 537.0,68.7 540.1,67.8 543.2,68.6 546.3,71.2 549.4,72.8 552.6,73.7 555.7,74.9 558.8,75.7 561.9,77.4 565.0,78.8 568.1,81.8 571.3,84.1 574.4,88.5 577.5,92.7 580.6,98.2 583.7,101.8 586.8,105.1 590.0,108.6 593.1,111.4 596.2,113.8 599.3,116.3 602.4,117.8 605.5,119.0 608.7,120.4 611.8,123.2 614.9,124.9 618.0,126.5 621.1,127.5 624.2,128.9 627.4,130.3 630.5,131.7 633.6,132.8 636.7,133.5 639.8,133.7 643.0,134.1 646.1,134.3 649.2,134.7 652.3,134.9 655.4,135.1 658.5,135.7 661.7,136.0 664.8,136.6 667.9,137.2 671.0,141.1 674.1,143.4 677.2,145.5 680.4,146.0 683.5,146.9 686.6,147.5 689.7,147.5 692.8,147.2 695.9,146.5 699.1,146.3 702.2,146.4 705.3,146.0 708.4,145.3 711.5,143.5 714.6,142.4 717.8,141.1 720.9,139.5 724.0,138.8 727.1,137.6 730.2,136.8 733.3,138.0 736.5,137.9 739.6,138.7 742.7,142.1 745.8,145.0 748.9,147.0 752.0,150.9 755.2,155.2 758.3,157.8 761.4,160.7 764.5,163.6 767.6,166.8 770.7,169.2 773.9,171.7 777.0,174.7 780.1,180.4 783.2,188.9 786.3,194.6 789.4,199.2 792.6,204.2 795.7,208.7 798.8,215.2 801.9,220.7 805.0,226.1 808.2,232.3 811.3,238.0 814.4,242.1 817.5,244.4 820.6,246.6 823.7,247.9 826.9,250.1 830.0,251.8 833.1,254.3 836.2,255.9 839.3,260.9 842.4,264.4 845.6,265.8 848.7,267.1 851.8,269.0 854.9,273.1 858.0,275.9 861.1,279.1 864.3,282.6 867.4,285.8 870.5,288.8 873.6,294.8 876.7,300.5 879.8,307.6 883.0,313.0 886.1,316.9 889.2,320.2 892.3,322.0 895.4,322.5 898.5,322.9 901.7,322.4 904.8,323.3 907.9,323.9 911.0,323.7 914.1,323.4 917.2,322.8 920.4,322.1 923.5,321.1 926.6,319.7 929.7,319.0 932.8,317.8 935.9,317.6 939.1,317.1 942.2,317.4 945.3,317.7" fill="none" stroke="#3d63f2" stroke-width="1.2" stroke-linejoin="round"/>
<polyline points="-5.4,131.6 -2.3,131.1 0.8,130.5 4.0,130.2 7.1,129.7 10.2,129.0 13.3,128.7 16.4,128.2 19.6,127.5 22.7,126.7 25.8,125.4 28.9,124.0 32.0,122.7 35.1,123.1 38.3,122.8 41.4,123.2 44.5,123.8 47.6,124.2 50.7,125.4 53.8,126.1 57.0,126.4 60.1,127.2 63.2,128.1 66.3,129.0 69.4,129.7 72.5,130.1 75.7,130.2 78.8,130.4 81.9,130.9 85.0,131.6 88.1,131.4 91.2,131.4 94.4,132.6 97.5,132.3 100.6,132.2 103.7,131.9 106.8,132.9 109.9,133.2 113.1,133.5 116.2,133.6 119.3,133.9 122.4,134.1 125.5,134.3 128.6,134.5 131.8,134.3 134.9,134.2 138.0,134.3 141.1,134.2 144.2,134.0 147.3,134.2 150.5,134.0 153.6,132.1 156.7,130.9 159.8,130.9 162.9,131.6 166.0,132.2 169.2,132.5 172.3,132.4 175.4,132.6 178.5,132.1 181.6,131.4 184.8,131.2 187.9,130.9 191.0,130.6 194.1,130.2 197.2,129.5 200.3,129.3 203.5,129.3 206.6,129.1 209.7,128.9 212.8,128.7 215.9,128.3 219.0,127.9 222.2,127.4 225.3,126.8 228.4,125.9 231.5,125.4 234.6,124.2 237.7,122.4 240.9,120.0 244.0,117.5 247.1,115.6 250.2,114.6 253.3,113.2 256.4,112.1 259.6,110.8 262.7,109.4 265.8,107.8 268.9,106.5 272.0,105.5 275.1,104.7 278.3,104.0 281.4,102.9 284.5,100.6 287.6,99.8 290.7,98.5 293.8,96.9 297.0,94.9 300.1,92.8 303.2,91.3 306.3,90.1 309.4,88.6 312.5,86.7 315.7,86.4 318.8,84.2 321.9,82.9 325.0,81.7 328.1,81.5 331.3,82.4 334.4,83.7 337.5,84.2 340.6,85.0 343.7,86.5 346.8,87.7 350.0,89.5 353.1,90.5 356.2,91.5 359.3,92.1 362.4,92.8 365.5,94.1 368.7,94.6 371.8,95.8 374.9,96.7 378.0,97.5 381.1,98.2 384.2,98.7 387.4,99.1 390.5,99.6 393.6,100.2 396.7,100.6 399.8,100.9 402.9,101.0 406.1,100.8 409.2,100.5 412.3,100.9 415.4,100.3 418.5,100.0 421.6,100.0 424.8,99.6 427.9,100.1 431.0,100.5 434.1,100.3 437.2,99.9 440.3,99.6 443.5,98.1 446.6,96.3 449.7,92.6 452.8,88.7 455.9,85.7 459.0,83.8 462.2,80.7 465.3,77.7 468.4,75.3 471.5,74.4 474.6,72.6 477.7,70.7 480.9,69.4 484.0,68.8 487.1,67.8 490.2,67.4 493.3,66.6 496.5,66.3 499.6,66.6 502.7,66.6 505.8,66.3 508.9,66.1 512.0,65.9 515.2,65.5 518.3,64.7 521.4,64.2 524.5,63.9 527.6,63.4 530.7,63.3 533.9,62.7 537.0,61.9 540.1,61.0 543.2,61.4 546.3,63.3 549.4,65.1 552.6,66.2 555.7,67.5 558.8,68.5 561.9,70.0 565.0,71.6 568.1,74.2 571.3,76.7 574.4,80.6 577.5,84.7 580.6,89.5 583.7,92.9 586.8,96.3 590.0,99.9 593.1,101.9 596.2,102.8 599.3,105.1 602.4,106.5 605.5,108.0 608.7,109.7 611.8,112.0 614.9,113.9 618.0,115.8 621.1,117.1 624.2,118.6 627.4,120.3 630.5,121.4 633.6,122.3 636.7,123.3 639.8,123.9 643.0,124.7 646.1,125.2 649.2,125.9 652.3,126.5 655.4,127.0 658.5,127.8 661.7,128.4 664.8,129.2 667.9,130.0 671.0,133.0 674.1,135.4 677.2,137.0 680.4,137.4 683.5,138.1 686.6,138.5 689.7,138.5 692.8,138.2 695.9,137.8 699.1,137.7 702.2,138.0 705.3,137.7 708.4,136.6 711.5,134.7 714.6,133.6 717.8,132.5 720.9,130.8 724.0,130.0 727.1,129.0 730.2,128.3 733.3,129.0 736.5,129.1 739.6,129.9 742.7,132.7 745.8,135.3 748.9,137.4 752.0,141.0 755.2,145.0 758.3,147.4 761.4,150.3 764.5,152.6 767.6,155.5 770.7,158.3 773.9,161.1 777.0,164.1 780.1,169.1 783.2,176.5 786.3,181.7 789.4,186.6 792.6,191.7 795.7,196.2 798.8,202.2 801.9,207.4 805.0,212.8 808.2,218.5 811.3,224.0 814.4,227.9 817.5,229.6 820.6,232.1 823.7,233.9 826.9,236.2 830.0,238.2 833.1,241.0 836.2,242.7 839.3,246.5 842.4,249.1 845.6,250.6 848.7,252.4 851.8,254.5 854.9,258.2 858.0,260.6 861.1,263.9 864.3,267.5 867.4,271.0 870.5,274.3 873.6,279.6 876.7,285.3 879.8,291.9 883.0,296.6 886.1,300.6 889.2,303.7 892.3,305.6 895.4,305.8 898.5,306.4 901.7,306.3 904.8,307.0 907.9,308.1 911.0,308.1 914.1,307.5 917.2,307.3 920.4,307.2 923.5,306.8 926.6,305.6 929.7,305.2 932.8,304.2 935.9,304.1 939.1,303.7 942.2,304.2 945.3,304.9" fill="none" stroke="#3d63f2" stroke-width="1.2" stroke-linejoin="round"/>
<polyline points="-5.4,141.4 -2.3,141.4 0.8,141.8 4.0,141.8 7.1,141.8 10.2,141.8 13.3,141.8 16.4,141.8 19.6,141.8 22.7,139.7 25.8,132.0 28.9,125.0 32.0,120.4 35.1,120.2 38.3,120.2 41.4,120.0 44.5,120.1 47.6,120.1 50.7,123.4 53.8,123.4 57.0,123.4 60.1,123.4 63.2,123.4 66.3,123.4 69.4,125.4 72.5,125.4 75.7,125.4 78.8,125.4 81.9,125.4 85.0,125.4 88.1,125.4 91.2,125.4 94.4,127.4 97.5,129.7 100.6,129.7 103.7,133.2 106.8,133.8 109.9,133.8 113.1,133.8 116.2,133.8 119.3,133.8 122.4,133.8 125.5,133.8 128.6,133.8 131.8,133.3 134.9,133.3 138.0,133.3 141.1,133.3 144.2,133.3 147.3,133.3 150.5,133.3 153.6,128.0 156.7,127.2 159.8,127.0 162.9,127.0 166.0,127.0 169.2,126.2 172.3,125.6 175.4,125.6 178.5,125.6 181.6,125.6 184.8,125.6 187.9,125.6 191.0,125.6 194.1,125.6 197.2,125.6 200.3,125.6 203.5,125.6 206.6,125.6 209.7,125.6 212.8,125.6 215.9,125.6 219.0,128.2 222.2,128.5 225.3,127.7 228.4,126.5 231.5,126.5 234.6,121.7 237.7,118.8 240.9,112.7 244.0,112.7 247.1,111.6 250.2,111.5 253.3,111.5 256.4,111.5 259.6,111.5 262.7,111.5 265.8,109.6 268.9,109.6 272.0,109.6 275.1,109.6 278.3,109.6 281.4,109.6 284.5,104.0 287.6,104.0 290.7,104.0 293.8,104.0 297.0,103.2 300.1,87.8 303.2,87.8 306.3,87.8 309.4,87.8 312.5,82.2 315.7,81.4 318.8,81.4 321.9,80.2 325.0,78.9 328.1,78.9 331.3,78.9 334.4,78.9 337.5,78.9 340.6,78.4 343.7,80.2 346.8,81.1 350.0,85.9 353.1,85.9 356.2,85.9 359.3,85.9 362.4,85.9 365.5,85.9 368.7,85.9 371.8,85.9 374.9,86.8 378.0,86.8 381.1,87.3 384.2,89.9 387.4,91.1 390.5,94.4 393.6,98.7 396.7,98.7 399.8,99.7 402.9,102.3 406.1,102.3 409.2,102.3 412.3,102.3 415.4,99.8 418.5,99.8 421.6,99.8 424.8,99.8 427.9,99.8 431.0,98.2 434.1,98.2 437.2,98.2 440.3,98.2 443.5,96.4 446.6,92.0 449.7,77.6 452.8,77.6 455.9,77.6 459.0,77.6 462.2,77.6 465.3,74.6 468.4,74.6 471.5,74.6 474.6,74.6 477.7,74.6 480.9,74.6 484.0,74.6 487.1,72.6 490.2,72.6 493.3,72.3 496.5,70.2 499.6,69.9 502.7,68.8 505.8,63.5 508.9,60.6 512.0,56.2 515.2,56.2 518.3,56.2 521.4,56.2 524.5,56.2 527.6,57.4 530.7,58.5 533.9,58.5 537.0,58.5 540.1,58.5 543.2,60.4 546.3,67.8 549.4,67.8 552.6,67.8 555.7,67.8 558.8,67.8 561.9,68.8 565.0,68.8 568.1,74.0 571.3,75.2 574.4,83.1 577.5,86.7 580.6,97.3 583.7,97.3 586.8,97.3 590.0,97.3 593.1,97.3 596.2,98.7 599.3,98.7 602.4,99.6 605.5,106.8 608.7,111.7 611.8,111.7 614.9,111.7 618.0,112.6 621.1,112.9 624.2,115.6 627.4,116.1 630.5,123.2 633.6,123.8 636.7,128.2 639.8,128.2 643.0,128.2 646.1,128.2 649.2,128.2 652.3,128.2 655.4,128.2 658.5,127.3 661.7,128.8 664.8,130.2 667.9,130.8 671.0,140.0 674.1,141.2 677.2,141.2 680.4,141.2 683.5,141.2 686.6,141.2 689.7,141.2 692.8,141.2 695.9,146.5 699.1,146.5 702.2,146.5 705.3,146.5 708.4,143.6 711.5,139.7 714.6,139.7 717.8,139.7 720.9,138.8 724.0,138.8 727.1,138.8 730.2,138.8 733.3,138.8 736.5,136.5 739.6,133.0 742.7,136.2 745.8,139.2 748.9,139.2 752.0,144.3 755.2,148.1 758.3,148.1 761.4,148.1 764.5,153.8 767.6,153.8 770.7,153.8 773.9,153.8 777.0,153.8 780.1,165.0 783.2,180.6 786.3,182.7 789.4,182.7 792.6,185.0 795.7,190.0 798.8,196.6 801.9,200.5 805.0,207.1 808.2,218.4 811.3,222.8 814.4,227.6 817.5,227.6 820.6,227.6 823.7,229.0 826.9,230.9 830.0,233.8 833.1,234.8 836.2,236.7 839.3,245.3 842.4,255.7 845.6,262.4 848.7,262.4 851.8,265.0 854.9,266.3 858.0,272.6 861.1,273.9 864.3,273.9 867.4,273.9 870.5,273.9 873.6,286.2 876.7,290.4 879.8,300.4 883.0,310.7 886.1,310.7 889.2,311.6 892.3,311.6 895.4,311.6 898.5,311.6 901.7,311.6 904.8,316.9 907.9,317.8 911.0,318.2 914.1,320.4 917.2,327.3 920.4,327.8 923.5,329.9 926.6,332.4 929.7,332.4 932.8,332.4 935.9,332.4 939.1,332.4 942.2,332.4 945.3,320.2" fill="none" stroke="#ec9548" stroke-width="1.0" stroke-linejoin="round"/>
<path d="M0 311.5H1060" stroke="#62c8d3" stroke-width="1" stroke-dasharray="1 2" fill="none"/>
<path d="M3.5 125.7V129.4M13.5 121.3V133.5M35.5 110.3V126.8M41.5 115.0V126.5M44.5 122.0V133.8M50.5 127.2V140.4M60.5 126.5V137.5M63.5 130.0V136.4M66.5 134.6V138.2M81.5 132.3V135.0M85.5 132.8V138.1M91.5 128.0V131.7M94.5 131.2V143.5M100.5 124.0V131.7M106.5 125.3V142.4M119.5 135.0V136.0M122.5 135.3V137.6M125.5 135.5V136.5M134.5 132.3V133.3M137.5 132.8V135.5M147.5 131.2V136.5M156.5 111.5V120.5M159.5 116.8V130.7M162.5 129.6V139.7M166.5 133.3V138.1M175.5 131.7V134.4M184.5 123.8V132.3M190.5 125.9V128.0M200.5 117.3V129.4M203.5 125.0V129.0M212.5 126.0V127.0M231.5 115.0V120.0M247.5 95.3V97.5M250.5 96.4V106.3M268.5 89.8V94.2M272.5 92.0V96.4M275.5 93.0V96.4M278.5 94.2V97.5M287.5 83.7V92.3M303.5 71.7V76.5M306.5 71.7V79.0M315.5 66.0V83.7M321.5 63.1V70.8M325.5 68.4V70.8M328.5 70.8V78.9M331.5 77.5V91.8M334.5 87.5V95.2M340.5 88.0V93.2M343.5 94.2V100.0M346.5 95.2V101.8M349.5 97.0V111.4M356.5 96.0V100.9M362.5 97.5V100.0M365.5 100.0V105.7M371.5 94.2V106.6M378.5 104.4V105.0M387.5 103.3V103.8M390.5 103.8V104.4M393.5 104.1V105.9M399.5 102.4V104.1M412.5 98.8V104.7M418.5 89.4V96.5M421.5 95.9V100.0M427.5 95.3V104.1M430.5 97.6V104.1M455.5 51.2V57.6M459.5 54.1V65.9M468.5 43.3V52.6M471.5 51.5V65.3M480.5 45.5V64.8M483.5 55.4V67.0M490.5 57.6V63.7M496.5 59.8V62.6M499.5 59.3V71.4M508.5 63.1V64.8M521.5 56.0V59.3M524.5 58.7V62.0M530.5 58.7V61.5M543.5 51.0V65.3M546.5 65.3V86.3M549.5 79.1V82.4M555.5 75.3V81.8M561.5 77.6V88.2M565.5 83.0V86.5M568.5 84.0V98.8M571.5 98.2V101.2M574.5 99.4V117.0M577.5 114.7V124.1M580.5 121.8V145.3M586.5 122.4V128.8M589.5 127.6V134.1M599.5 111.2V127.0M605.5 117.0V122.4M608.5 120.6V125.9M611.5 120.6V140.6M618.5 130.6V134.7M624.5 126.5V133.5M627.5 132.4V138.8M636.5 130.0V135.3M642.5 130.0V131.8M649.5 129.0V132.4M652.5 130.6V131.8M655.5 130.6V132.4M658.5 130.0V134.7M661.5 133.5V134.7M664.5 133.5V136.5M667.5 134.1V137.6M671.5 137.0V161.8M683.5 134.7V145.3M699.5 131.2V137.0M702.5 136.5V141.8M714.5 115.3V123.0M717.5 118.8V122.4M723.5 114.7V125.3M730.5 115.3V121.5M733.5 120.0V136.5M739.5 130.0V137.7M742.5 136.8V158.8M745.5 150.0V165.0M752.5 157.8V175.0M755.5 167.4V182.7M761.5 167.4V177.9M767.5 174.0V188.4M770.5 179.8V184.6M773.5 181.7V187.4M776.5 185.5V194.1M780.5 192.2V216.5M783.5 213.0V246.5M789.5 226.2V233.2M792.5 231.5V242.0M798.5 239.4V263.2M805.5 250.9V264.0M808.5 257.0V279.1M811.5 267.6V287.9M820.5 245.6V255.3M826.5 250.0V263.2M829.5 251.8V257.9M833.5 257.0V266.8M839.5 259.7V298.5M848.5 264.1V269.4M851.5 265.0V274.7M854.5 269.4V293.2M861.5 284.2V295.6M864.5 288.4V301.7M867.5 293.5V303.8M870.5 297.6V305.8M873.5 301.7V330.5M876.5 322.3V338.8M879.5 332.6V355.2M898.5 302.7V316.1M904.5 297.6V318.2M907.5 312.0V318.2M917.5 298.6V305.8M920.5 301.7V305.8M929.5 294.5V301.7M935.5 298.6V303.8M942.5 301.7V308.9M945.5 307.3V314.3" stroke="#62c8d3" stroke-width="1" fill="none"/>
<path d="M2.2 125.7h2.6v1.0h-2.6zM12.2 121.3h2.6v5.2h-2.6zM34.2 111.0h2.6v15.8h-2.6zM40.2 119.9h2.6v6.6h-2.6zM43.2 123.5h2.6v6.6h-2.6zM49.2 127.2h2.6v9.6h-2.6zM59.2 128.0h2.6v6.6h-2.6zM62.2 133.0h2.6v3.4h-2.6zM65.2 134.6h2.6v3.6h-2.6zM80.2 132.3h2.6v2.7h-2.6zM84.2 132.8h2.6v5.3h-2.6zM90.2 128.5h2.6v3.2h-2.6zM93.2 131.2h2.6v12.3h-2.6zM99.2 124.3h2.6v7.4h-2.6zM105.2 129.0h2.6v12.9h-2.6zM118.2 135.0h2.6v1.0h-2.6zM121.2 135.3h2.6v1.0h-2.6zM124.2 135.5h2.6v1.0h-2.6zM133.2 132.3h2.6v1.0h-2.6zM136.2 132.8h2.6v2.7h-2.6zM146.2 131.2h2.6v5.3h-2.6zM155.2 113.0h2.6v7.0h-2.6zM158.2 117.9h2.6v12.8h-2.6zM161.2 129.6h2.6v9.1h-2.6zM165.2 133.3h2.6v4.8h-2.6zM174.2 131.7h2.6v2.7h-2.6zM183.2 123.8h2.6v5.2h-2.6zM189.2 125.9h2.6v2.1h-2.6zM199.2 122.8h2.6v5.0h-2.6zM202.2 125.0h2.6v4.0h-2.6zM211.2 126.0h2.6v1.0h-2.6zM230.2 115.0h2.6v5.0h-2.6zM246.2 95.3h2.6v2.2h-2.6zM249.2 96.4h2.6v8.8h-2.6zM267.2 89.8h2.6v4.4h-2.6zM271.2 92.0h2.6v4.4h-2.6zM274.2 93.0h2.6v3.4h-2.6zM277.2 94.2h2.6v3.3h-2.6zM286.2 83.7h2.6v8.6h-2.6zM302.2 71.7h2.6v4.8h-2.6zM305.2 71.7h2.6v7.3h-2.6zM314.2 68.4h2.6v15.3h-2.6zM320.2 63.1h2.6v7.7h-2.6zM324.2 68.4h2.6v2.4h-2.6zM327.2 70.8h2.6v8.1h-2.6zM330.2 77.5h2.6v14.3h-2.6zM333.2 87.5h2.6v7.7h-2.6zM339.2 88.0h2.6v5.2h-2.6zM342.2 94.2h2.6v5.8h-2.6zM345.2 95.2h2.6v4.8h-2.6zM348.2 97.0h2.6v8.7h-2.6zM355.2 96.0h2.6v4.9h-2.6zM361.2 97.5h2.6v2.5h-2.6zM364.2 100.0h2.6v5.7h-2.6zM370.2 94.2h2.6v12.4h-2.6zM377.2 104.4h2.6v1.0h-2.6zM386.2 103.3h2.6v1.0h-2.6zM389.2 103.8h2.6v1.0h-2.6zM392.2 104.1h2.6v1.8h-2.6zM398.2 102.4h2.6v1.7h-2.6zM411.2 98.8h2.6v5.9h-2.6zM417.2 91.8h2.6v4.7h-2.6zM420.2 95.9h2.6v4.1h-2.6zM426.2 95.3h2.6v8.8h-2.6zM429.2 97.6h2.6v6.5h-2.6zM454.2 51.2h2.6v6.4h-2.6zM458.2 54.1h2.6v11.8h-2.6zM467.2 49.3h2.6v3.3h-2.6zM470.2 51.5h2.6v13.8h-2.6zM479.2 52.1h2.6v4.9h-2.6zM482.2 55.4h2.6v8.3h-2.6zM489.2 57.6h2.6v6.1h-2.6zM495.2 59.8h2.6v2.8h-2.6zM498.2 62.0h2.6v7.7h-2.6zM507.2 63.1h2.6v1.7h-2.6zM520.2 56.0h2.6v3.3h-2.6zM523.2 58.7h2.6v2.2h-2.6zM529.2 58.7h2.6v2.8h-2.6zM542.2 51.5h2.6v13.8h-2.6zM545.2 65.3h2.6v16.0h-2.6zM548.2 79.1h2.6v3.3h-2.6zM554.2 76.5h2.6v2.9h-2.6zM560.2 77.6h2.6v7.1h-2.6zM564.2 83.0h2.6v3.5h-2.6zM567.2 84.0h2.6v14.8h-2.6zM570.2 98.2h2.6v3.0h-2.6zM573.2 99.4h2.6v17.6h-2.6zM576.2 114.7h2.6v9.4h-2.6zM579.2 121.8h2.6v12.9h-2.6zM585.2 122.4h2.6v6.4h-2.6zM588.2 127.6h2.6v6.5h-2.6zM598.2 111.2h2.6v15.8h-2.6zM604.2 119.4h2.6v3.0h-2.6zM607.2 120.6h2.6v5.3h-2.6zM610.2 124.7h2.6v9.4h-2.6zM617.2 130.6h2.6v4.1h-2.6zM623.2 126.5h2.6v7.0h-2.6zM626.2 132.4h2.6v3.5h-2.6zM635.2 130.0h2.6v2.4h-2.6zM641.2 130.0h2.6v1.8h-2.6zM648.2 129.0h2.6v3.4h-2.6zM651.2 130.6h2.6v1.2h-2.6zM654.2 130.6h2.6v1.8h-2.6zM657.2 130.6h2.6v4.1h-2.6zM660.2 133.5h2.6v1.2h-2.6zM663.2 133.5h2.6v3.0h-2.6zM666.2 134.1h2.6v3.5h-2.6zM670.2 137.0h2.6v24.8h-2.6zM682.2 141.2h2.6v4.1h-2.6zM698.2 134.1h2.6v2.9h-2.6zM701.2 136.5h2.6v4.1h-2.6zM713.2 116.5h2.6v6.5h-2.6zM716.2 118.8h2.6v3.6h-2.6zM722.2 114.7h2.6v7.7h-2.6zM729.2 116.5h2.6v5.0h-2.6zM732.2 120.0h2.6v16.5h-2.6zM738.2 130.0h2.6v7.7h-2.6zM741.2 136.8h2.6v22.0h-2.6zM744.2 151.0h2.6v9.0h-2.6zM751.2 157.8h2.6v17.2h-2.6zM754.2 167.4h2.6v15.3h-2.6zM760.2 170.2h2.6v7.7h-2.6zM766.2 174.0h2.6v9.6h-2.6zM769.2 179.8h2.6v4.8h-2.6zM772.2 181.7h2.6v5.7h-2.6zM775.2 185.5h2.6v8.0h-2.6zM779.2 193.5h2.6v23.0h-2.6zM782.2 214.7h2.6v31.8h-2.6zM788.2 230.6h2.6v2.6h-2.6zM791.2 231.5h2.6v8.8h-2.6zM797.2 239.4h2.6v19.4h-2.6zM804.2 250.9h2.6v13.1h-2.6zM807.2 257.0h2.6v16.0h-2.6zM810.2 267.6h2.6v8.0h-2.6zM819.2 245.6h2.6v9.7h-2.6zM825.2 250.0h2.6v7.9h-2.6zM828.2 251.8h2.6v6.1h-2.6zM832.2 257.0h2.6v9.8h-2.6zM838.2 259.7h2.6v22.1h-2.6zM847.2 264.1h2.6v5.3h-2.6zM850.2 265.0h2.6v9.7h-2.6zM853.2 269.4h2.6v23.8h-2.6zM860.2 284.2h2.6v11.4h-2.6zM863.2 288.4h2.6v13.3h-2.6zM866.2 293.5h2.6v10.3h-2.6zM869.2 297.6h2.6v8.2h-2.6zM872.2 301.7h2.6v28.8h-2.6zM875.2 322.3h2.6v16.5h-2.6zM878.2 332.6h2.6v22.6h-2.6zM897.2 305.8h2.6v6.2h-2.6zM903.2 303.8h2.6v10.3h-2.6zM906.2 312.0h2.6v6.2h-2.6zM916.2 298.6h2.6v7.2h-2.6zM919.2 301.7h2.6v4.1h-2.6zM928.2 294.5h2.6v7.2h-2.6zM934.2 298.6h2.6v5.2h-2.6zM941.2 301.7h2.6v7.2h-2.6zM944.2 308.2h2.6v3.0h-2.6z" fill="#62c8d3"/>
<path d="M0.5 125.0V126.5M7.5 125.4V127.6M10.5 119.5V126.5M16.5 122.8V127.6M19.5 119.5V126.8M22.5 119.5V126.5M25.5 112.0V119.0M28.5 109.0V116.5M32.5 106.4V116.8M38.5 119.0V128.7M47.5 127.2V130.0M53.5 129.4V139.7M56.5 124.3V133.8M69.5 134.0V144.5M72.5 131.6V137.5M75.5 129.4V134.6M78.5 131.2V134.4M88.5 128.0V137.6M97.5 123.2V143.0M103.5 127.0V131.7M109.5 135.5V140.8M113.5 135.0V137.0M116.5 135.3V136.5M128.5 136.0V137.6M131.5 130.2V136.5M141.5 132.8V135.5M144.5 130.2V133.3M150.5 131.7V135.5M153.5 112.6V132.3M169.5 135.0V137.0M172.5 131.7V138.1M178.5 122.2V132.3M181.5 121.0V130.2M187.5 127.0V130.2M194.5 126.0V129.0M197.5 122.3V128.9M206.5 126.2V129.5M209.5 125.5V127.5M215.5 125.0V127.3M219.5 122.8V126.2M222.5 122.8V124.5M225.5 121.2V123.4M228.5 115.0V122.8M234.5 109.0V119.5M237.5 105.2V130.0M240.5 93.0V105.2M243.5 93.0V99.7M253.5 100.2V104.1M256.5 99.1V102.4M259.5 99.1V102.4M262.5 96.4V100.2M265.5 89.2V97.5M281.5 91.5V95.3M284.5 78.0V93.2M290.5 85.6V91.3M293.5 80.8V94.2M296.5 76.5V89.4M300.5 69.3V77.5M309.5 74.6V78.4M312.5 60.3V75.6M318.5 62.2V77.5M337.5 86.1V96.6M353.5 94.2V102.8M359.5 93.2V106.6M368.5 94.2V111.4M374.5 104.1V107.5M381.5 104.7V105.9M384.5 102.4V104.7M396.5 103.5V105.3M402.5 101.8V104.7M406.5 96.5V102.4M409.5 93.5V99.4M415.5 88.2V99.4M424.5 96.5V108.2M434.5 98.8V103.5M437.5 93.5V99.4M440.5 93.5V98.8M443.5 84.7V96.5M446.5 75.9V85.9M449.5 47.0V80.0M452.5 50.5V58.2M462.5 50.0V65.3M465.5 41.1V58.8M474.5 56.0V65.3M477.5 47.1V57.0M487.5 57.6V66.4M493.5 58.2V66.4M502.5 65.3V69.2M505.5 62.0V68.0M512.5 63.6V64.2M515.5 62.0V64.2M518.5 56.5V62.6M527.5 58.2V62.6M533.5 57.0V61.5M536.5 54.8V58.2M540.5 49.3V55.4M552.5 76.3V81.9M558.5 77.0V79.5M583.5 125.3V137.6M593.5 117.0V140.6M596.5 108.2V148.2M602.5 114.1V126.5M614.5 128.2V136.5M621.5 128.8V132.4M630.5 129.4V143.5M633.5 118.2V132.9M639.5 130.0V131.2M646.5 129.5V131.5M674.5 157.0V164.1M677.5 141.8V159.4M680.5 140.6V152.4M686.5 131.8V146.5M689.5 135.3V144.1M692.5 132.9V141.8M695.5 132.9V137.0M705.5 134.7V140.0M708.5 123.0V138.2M711.5 115.3V126.5M720.5 113.5V124.1M727.5 116.5V123.5M736.5 130.0V134.7M748.5 157.8V164.5M758.5 168.3V178.8M764.5 170.2V194.1M786.5 227.0V250.0M795.5 234.1V245.6M801.5 245.6V264.1M814.5 258.0V275.6M817.5 242.0V265.9M823.5 250.9V256.2M836.5 259.7V269.4M842.5 251.8V282.6M845.5 262.4V275.6M858.5 283.2V305.8M882.5 340.8V371.4M886.5 330.5V345.0M889.5 326.4V347.0M892.5 320.2V334.7M895.5 302.7V324.4M901.5 303.8V308.9M911.5 306.9V319.2M914.5 296.6V318.2M923.5 303.8V305.8M926.5 293.5V303.8M932.5 294.5V305.8M939.5 298.0V310.0" stroke="#000000" stroke-width="1" fill="none"/>
<path d="M-0.8 125.5h2.6v1.0h-2.6zM6.2 125.4h2.6v2.2h-2.6zM9.2 122.0h2.6v4.5h-2.6zM15.2 122.8h2.6v4.8h-2.6zM18.2 121.3h2.6v5.5h-2.6zM21.2 119.5h2.6v2.5h-2.6zM24.2 112.9h2.6v4.8h-2.6zM27.2 110.2h2.6v6.1h-2.6zM31.2 111.0h2.6v1.0h-2.6zM37.2 119.9h2.6v6.9h-2.6zM46.2 127.2h2.6v1.8h-2.6zM52.2 133.0h2.6v3.8h-2.6zM55.2 129.4h2.6v4.1h-2.6zM68.2 136.0h2.6v1.5h-2.6zM71.2 133.5h2.6v4.0h-2.6zM74.2 131.8h2.6v1.5h-2.6zM77.2 132.6h2.6v1.0h-2.6zM87.2 129.6h2.6v8.0h-2.6zM96.2 129.6h2.6v12.8h-2.6zM102.2 129.0h2.6v2.7h-2.6zM108.2 136.5h2.6v1.1h-2.6zM112.2 135.8h2.6v1.0h-2.6zM115.2 135.3h2.6v1.2h-2.6zM127.2 136.0h2.6v1.0h-2.6zM130.2 132.3h2.6v4.2h-2.6zM140.2 133.8h2.6v1.0h-2.6zM143.2 131.7h2.6v1.6h-2.6zM149.2 131.7h2.6v3.8h-2.6zM152.2 113.6h2.6v18.7h-2.6zM168.2 135.0h2.6v1.5h-2.6zM171.2 131.7h2.6v4.3h-2.6zM177.2 127.5h2.6v4.8h-2.6zM180.2 124.3h2.6v2.7h-2.6zM186.2 128.5h2.6v1.0h-2.6zM193.2 126.6h2.6v1.8h-2.6zM196.2 122.3h2.6v6.6h-2.6zM205.2 127.5h2.6v1.0h-2.6zM208.2 126.4h2.6v1.0h-2.6zM214.2 125.0h2.6v2.3h-2.6zM218.2 124.0h2.6v1.6h-2.6zM221.2 122.8h2.6v1.7h-2.6zM224.2 121.2h2.6v2.2h-2.6zM227.2 117.3h2.6v5.5h-2.6zM233.2 113.0h2.6v6.5h-2.6zM236.2 105.2h2.6v8.8h-2.6zM239.2 97.0h2.6v8.2h-2.6zM242.2 94.2h2.6v4.4h-2.6zM252.2 100.2h2.6v3.9h-2.6zM255.2 100.8h2.6v1.6h-2.6zM258.2 99.1h2.6v3.3h-2.6zM261.2 96.4h2.6v3.8h-2.6zM264.2 92.0h2.6v5.5h-2.6zM280.2 92.5h2.6v2.8h-2.6zM283.2 79.0h2.6v14.2h-2.6zM289.2 85.6h2.6v5.7h-2.6zM292.2 81.8h2.6v6.2h-2.6zM295.2 76.5h2.6v6.2h-2.6zM299.2 73.0h2.6v4.5h-2.6zM308.2 74.6h2.6v3.8h-2.6zM311.2 68.4h2.6v7.2h-2.6zM317.2 62.6h2.6v14.9h-2.6zM336.2 89.0h2.6v5.2h-2.6zM352.2 100.0h2.6v1.8h-2.6zM358.2 98.0h2.6v3.8h-2.6zM367.2 100.0h2.6v4.7h-2.6zM373.2 105.5h2.6v1.0h-2.6zM380.2 104.7h2.6v1.2h-2.6zM383.2 103.3h2.6v1.0h-2.6zM395.2 103.5h2.6v1.8h-2.6zM401.2 101.8h2.6v2.9h-2.6zM405.2 98.8h2.6v3.6h-2.6zM408.2 97.6h2.6v1.8h-2.6zM414.2 95.3h2.6v4.1h-2.6zM423.2 96.5h2.6v4.7h-2.6zM433.2 98.8h2.6v4.7h-2.6zM436.2 96.5h2.6v2.9h-2.6zM439.2 95.9h2.6v2.9h-2.6zM442.2 84.7h2.6v11.8h-2.6zM445.2 78.8h2.6v7.1h-2.6zM448.2 57.0h2.6v23.0h-2.6zM451.2 51.8h2.6v6.4h-2.6zM461.2 51.0h2.6v14.3h-2.6zM464.2 49.3h2.6v3.9h-2.6zM473.2 56.0h2.6v9.3h-2.6zM476.2 52.1h2.6v4.9h-2.6zM486.2 57.6h2.6v6.1h-2.6zM492.2 59.8h2.6v3.3h-2.6zM501.2 67.0h2.6v2.2h-2.6zM504.2 63.1h2.6v4.4h-2.6zM511.2 63.6h2.6v1.0h-2.6zM514.2 62.0h2.6v2.2h-2.6zM517.2 56.5h2.6v6.1h-2.6zM526.2 59.6h2.6v1.0h-2.6zM532.2 57.0h2.6v4.5h-2.6zM535.2 54.8h2.6v3.4h-2.6zM539.2 52.6h2.6v2.8h-2.6zM551.2 76.3h2.6v5.6h-2.6zM557.2 78.0h2.6v1.0h-2.6zM582.2 125.3h2.6v9.4h-2.6zM592.2 121.2h2.6v12.9h-2.6zM595.2 111.2h2.6v10.6h-2.6zM601.2 119.4h2.6v7.1h-2.6zM613.2 131.2h2.6v3.5h-2.6zM620.2 128.8h2.6v3.6h-2.6zM629.2 132.4h2.6v2.3h-2.6zM632.2 130.6h2.6v2.3h-2.6zM638.2 130.0h2.6v1.2h-2.6zM645.2 130.4h2.6v1.0h-2.6zM673.2 158.2h2.6v1.8h-2.6zM676.2 152.4h2.6v7.0h-2.6zM679.2 140.6h2.6v11.8h-2.6zM685.2 141.8h2.6v1.7h-2.6zM688.2 138.2h2.6v4.7h-2.6zM691.2 135.9h2.6v3.5h-2.6zM694.2 133.5h2.6v3.5h-2.6zM704.2 134.7h2.6v5.3h-2.6zM707.2 126.5h2.6v11.7h-2.6zM710.2 117.0h2.6v9.5h-2.6zM719.2 114.7h2.6v6.5h-2.6zM726.2 118.8h2.6v3.0h-2.6zM735.2 130.0h2.6v3.9h-2.6zM747.2 157.8h2.6v6.7h-2.6zM757.2 170.2h2.6v4.8h-2.6zM763.2 174.0h2.6v3.0h-2.6zM785.2 231.5h2.6v14.1h-2.6zM794.2 239.0h2.6v1.0h-2.6zM800.2 256.7h2.6v1.0h-2.6zM813.2 265.0h2.6v10.6h-2.6zM816.2 246.5h2.6v19.4h-2.6zM822.2 250.9h2.6v5.3h-2.6zM835.2 259.7h2.6v7.1h-2.6zM841.2 273.8h2.6v7.1h-2.6zM844.2 265.0h2.6v10.6h-2.6zM857.2 283.2h2.6v8.2h-2.6zM881.2 340.8h2.6v14.4h-2.6zM885.2 338.8h2.6v3.1h-2.6zM888.2 332.6h2.6v8.2h-2.6zM891.2 324.4h2.6v10.3h-2.6zM894.2 307.9h2.6v16.5h-2.6zM900.2 304.8h2.6v4.1h-2.6zM910.2 307.9h2.6v10.3h-2.6zM913.2 301.7h2.6v9.3h-2.6zM922.2 303.8h2.6v2.0h-2.6zM925.2 293.5h2.6v10.3h-2.6zM931.2 294.5h2.6v5.2h-2.6zM938.2 299.7h2.6v2.0h-2.6z" fill="#000000"/>
<polyline points="-5.4,553.1 -2.3,554.6 0.8,555.1 4.0,550.8 7.1,551.8 10.2,554.5 13.3,544.7 16.4,547.3 19.6,550.9 22.7,554.3 25.8,557.6 28.9,560.7 32.0,564.4 35.1,549.4 38.3,549.8 41.4,554.4 44.5,545.0 47.6,546.7 50.7,532.6 53.8,538.4 57.0,543.4 60.1,541.7 63.2,545.0 66.3,543.4 69.4,535.9 72.5,539.0 75.7,541.4 78.8,542.6 81.9,542.1 85.0,537.2 88.1,542.6 91.2,544.4 94.4,523.6 97.5,536.1 100.6,540.1 103.7,542.4 106.8,528.9 109.9,532.6 113.1,533.7 116.2,534.6 119.3,535.4 122.4,533.1 125.5,534.1 128.6,532.4 131.8,537.6 134.9,538.7 138.0,534.3 141.1,537.0 144.2,540.5 147.3,534.4 150.5,539.0 153.6,553.3 156.7,558.3 159.8,539.0 162.9,523.4 166.0,527.9 169.2,530.4 172.3,535.1 175.4,536.9 178.5,545.0 181.6,550.0 184.8,549.0 187.9,550.6 191.0,552.0 194.1,550.9 197.2,554.7 200.3,560.7 203.5,562.5 206.6,562.5 209.7,563.3 212.8,563.7 215.9,564.6 219.0,565.9 222.2,566.1 225.3,566.2 228.4,568.5 231.5,569.2 234.6,571.7 237.7,549.4 240.9,553.9 244.0,555.9 247.1,557.0 250.2,538.7 253.3,541.7 256.4,543.9 259.6,546.1 262.7,548.5 265.8,552.9 268.9,555.2 272.0,551.0 275.1,552.8 278.3,551.1 281.4,554.1 284.5,560.3 287.6,564.2 290.7,565.4 293.8,568.1 297.0,570.4 300.1,571.7 303.2,572.6 306.3,568.4 309.4,569.9 312.5,573.6 315.7,560.5 318.8,566.8 321.9,569.6 325.0,571.4 328.1,558.3 331.3,539.4 334.4,537.7 337.5,544.1 340.6,547.7 343.7,538.4 346.8,539.7 350.0,529.9 353.1,538.2 356.2,542.1 359.3,539.0 362.4,540.8 365.5,532.5 368.7,542.9 371.8,549.1 374.9,549.0 378.0,549.7 381.1,548.7 384.2,550.5 387.4,551.1 390.5,549.9 393.6,546.6 396.7,548.0 399.8,548.5 402.9,549.8 406.1,553.2 409.2,556.4 412.3,543.4 415.4,554.3 418.5,557.7 421.6,549.7 424.8,534.5 427.9,540.6 431.0,544.6 434.1,547.5 437.2,550.4 440.3,552.7 443.5,558.1 446.6,561.8 449.7,571.6 452.8,573.1 455.9,574.3 459.0,560.2 462.2,564.9 465.3,569.3 468.4,571.4 471.5,552.6 474.6,556.1 477.7,559.7 480.9,552.7 484.0,553.2 487.1,556.3 490.2,558.3 493.3,556.2 496.5,557.2 499.6,545.4 502.7,547.4 505.8,550.0 508.9,550.9 512.0,551.5 515.2,552.6 518.3,555.5 521.4,557.1 524.5,551.9 527.6,552.8 530.7,554.5 533.9,557.1 537.0,559.1 540.1,562.4 543.2,543.0 546.3,507.6 549.4,511.4 552.6,517.9 555.7,524.6 558.8,527.7 561.9,515.7 565.0,519.8 568.1,504.4 571.3,502.6 574.4,485.7 577.5,481.6 580.6,465.6 583.7,479.7 586.8,486.2 590.0,481.5 593.1,502.4 596.2,526.6 599.3,532.5 602.4,536.6 605.5,537.6 608.7,533.6 611.8,520.1 614.9,524.1 618.0,526.2 621.1,529.3 624.2,533.0 627.4,527.3 630.5,527.0 633.6,534.7 636.7,533.4 639.8,534.8 643.0,534.9 646.1,536.4 649.2,536.8 652.3,538.2 655.4,538.3 658.5,536.3 661.7,537.6 664.8,535.4 667.9,535.4 671.0,496.7 674.1,498.7 677.2,514.8 680.4,523.3 683.5,529.7 686.6,537.4 689.7,541.1 692.8,544.7 695.9,546.3 699.1,548.8 702.2,540.9 705.3,543.8 708.4,550.8 711.5,554.9 714.6,557.4 717.8,558.6 720.9,562.1 724.0,563.1 727.1,565.5 730.2,567.6 733.3,542.6 736.5,545.6 739.6,542.8 742.7,513.4 745.8,511.3 748.9,515.3 752.0,507.3 755.2,504.3 758.3,513.9 761.4,520.6 764.5,508.8 767.6,517.2 770.7,519.9 773.9,518.4 777.0,512.2 780.1,492.0 783.2,472.2 786.3,483.2 789.4,487.9 792.6,483.1 795.7,486.0 798.8,478.6 801.9,489.2 805.0,496.8 808.2,490.5 811.3,491.4 814.4,501.1 817.5,512.7 820.6,517.4 823.7,519.2 826.9,517.1 830.0,520.5 833.1,514.0 836.2,515.8 839.3,499.3 842.4,514.0 845.6,519.6 848.7,521.9 851.8,520.1 854.9,509.7 858.0,507.1 861.1,514.1 864.3,514.4 867.4,517.9 870.5,520.2 873.6,505.8 876.7,505.3 879.8,498.8 883.0,497.1 886.1,503.8 889.2,512.4 892.3,517.3 895.4,524.3 898.5,527.5 901.7,528.7 904.8,524.4 907.9,525.3 911.0,528.8 914.1,535.2 917.2,536.8 920.4,537.6 923.5,537.9 926.6,541.2 929.7,543.8 932.8,541.8 935.9,545.1 939.1,540.5 942.2,543.9 945.3,538.6" fill="none" stroke="#e8843c" stroke-width="1.3" stroke-linejoin="round"/>
<polyline points="-5.4,529.6 -2.3,531.8 0.8,531.1 4.0,532.8 7.1,532.8 10.2,523.7 13.3,529.8 16.4,531.6 19.6,527.8 22.7,531.3 25.8,519.3 28.9,518.0 32.0,519.7 35.1,529.9 38.3,535.4 41.4,533.5 44.5,539.4 47.6,541.2 50.7,547.2 53.8,551.5 57.0,545.5 60.1,550.1 63.2,552.7 66.3,554.2 69.4,557.9 72.5,555.0 75.7,552.4 78.8,553.7 81.9,554.9 85.0,557.2 88.1,550.2 91.2,552.0 94.4,557.4 97.5,548.1 100.6,551.4 103.7,553.4 106.8,559.6 109.9,561.6 113.1,561.1 116.2,561.5 119.3,561.1 122.4,562.1 125.5,562.6 128.6,563.4 131.8,549.5 134.9,550.2 138.0,551.9 141.1,553.4 144.2,546.7 147.3,550.2 150.5,553.2 153.6,509.6 156.7,515.8 159.8,528.4 162.9,536.4 166.0,540.8 169.2,543.6 172.3,539.5 175.4,541.7 178.5,525.4 181.6,529.8 184.8,536.1 187.9,538.3 191.0,537.0 194.1,539.0 197.2,533.3 200.3,529.1 203.5,532.5 206.6,535.5 209.7,535.6 212.8,537.2 215.9,536.7 219.0,533.3 222.2,535.9 225.3,533.2 228.4,520.6 231.5,527.7 234.6,520.9 237.7,545.0 240.9,524.0 244.0,530.6 247.1,533.8 250.2,541.8 253.3,545.3 256.4,544.5 259.6,546.6 262.7,541.6 265.8,528.1 268.9,532.0 272.0,535.8 275.1,538.6 278.3,541.1 281.4,537.6 284.5,512.3 287.6,525.1 290.7,530.3 293.8,528.3 297.0,527.3 300.1,516.5 303.2,520.1 306.3,525.8 309.4,529.0 312.5,507.5 315.7,521.7 318.8,528.0 321.9,532.5 325.0,533.6 328.1,538.0 331.3,545.1 334.4,548.2 337.5,552.2 340.6,553.5 343.7,555.2 346.8,556.6 350.0,560.4 353.1,557.3 356.2,557.9 359.3,561.2 362.4,561.4 365.5,562.8 368.7,556.1 371.8,560.0 374.9,561.4 378.0,562.2 381.1,563.1 384.2,559.0 387.4,559.8 390.5,560.6 393.6,561.8 396.7,561.6 399.8,559.4 402.9,561.3 406.1,547.6 409.2,542.5 412.3,548.2 415.4,529.1 418.5,534.9 421.6,538.0 424.8,545.9 427.9,547.8 431.0,551.4 434.1,554.4 437.2,543.6 440.3,547.5 443.5,532.4 446.6,518.5 449.7,484.9 452.8,492.9 455.9,499.1 459.0,509.2 462.2,513.1 465.3,508.8 468.4,515.0 471.5,523.3 474.6,528.3 477.7,517.8 480.9,528.4 484.0,533.8 487.1,537.6 490.2,540.0 493.3,543.4 496.5,544.6 499.6,549.8 502.7,551.7 505.8,548.0 508.9,549.0 512.0,549.7 515.2,547.3 518.3,537.9 521.4,539.0 524.5,541.4 527.6,544.5 530.7,546.5 533.9,544.8 537.0,540.9 540.1,529.7 543.2,540.9 546.3,553.0 549.4,554.4 552.6,550.4 555.7,551.0 558.8,552.0 561.9,557.0 565.0,558.2 568.1,564.1 571.3,564.9 574.4,570.4 577.5,572.6 580.6,577.6 583.7,579.6 586.8,574.9 590.0,576.2 593.1,561.5 596.2,557.8 599.3,561.6 602.4,564.4 605.5,565.4 608.7,566.3 611.8,570.1 614.9,571.4 618.0,572.0 621.1,570.1 624.2,567.6 627.4,569.0 630.5,571.9 633.6,556.4 636.7,557.9 639.8,558.6 643.0,559.2 646.1,558.9 649.2,560.1 652.3,560.7 655.4,561.4 658.5,563.2 661.7,563.7 664.8,564.9 667.9,566.4 671.0,574.2 674.1,576.1 677.2,547.8 680.4,550.8 683.5,543.5 686.6,544.8 689.7,548.9 692.8,548.2 695.9,550.3 699.1,549.6 702.2,552.3 705.3,551.3 708.4,534.2 711.5,525.3 714.6,530.3 717.8,533.0 720.9,528.3 724.0,534.7 727.1,538.4 730.2,538.9 733.3,546.9 736.5,549.5 739.6,552.5 742.7,560.3 745.8,564.6 748.9,566.2 752.0,570.3 755.2,573.3 758.3,575.7 761.4,575.8 764.5,579.3 767.6,581.0 770.7,581.6 773.9,582.3 777.0,583.3 780.1,585.7 783.2,588.2 786.3,589.4 789.4,588.6 792.6,589.0 795.7,589.4 798.8,590.3 801.9,590.8 805.0,591.2 808.2,592.1 811.3,593.0 814.4,583.0 817.5,567.6 820.6,569.5 823.7,570.7 826.9,572.9 830.0,573.9 833.1,575.2 836.2,576.4 839.3,580.7 842.4,574.6 845.6,575.9 848.7,576.2 851.8,576.9 854.9,578.9 858.0,580.4 861.1,580.8 864.3,581.2 867.4,581.5 870.5,582.0 873.6,584.1 876.7,585.5 879.8,587.4 883.0,589.4 886.1,580.0 889.2,578.1 892.3,573.6 895.4,558.6 898.5,561.0 901.7,562.3 904.8,565.4 907.9,566.1 911.0,562.0 914.1,554.2 917.2,555.5 920.4,556.1 923.5,556.3 926.6,544.9 929.7,546.8 932.8,549.4 935.9,551.3 939.1,553.8 942.2,555.4 945.3,556.6" fill="none" stroke="#2f6bf0" stroke-width="1.3" stroke-linejoin="round"/>
<polyline points="-5.4,539.5 -2.3,539.1 0.8,538.8 4.0,539.7 7.1,540.6 10.2,539.9 13.3,542.1 16.4,544.1 19.6,544.8 22.7,545.4 25.8,543.6 28.9,541.1 32.0,538.2 35.1,539.7 38.3,541.8 41.4,542.7 44.5,546.1 47.6,549.5 50.7,550.1 53.8,550.9 57.0,553.6 60.1,555.2 63.2,556.7 66.3,557.5 69.4,556.4 72.5,556.4 75.7,557.1 78.8,557.7 81.9,558.0 85.0,557.1 88.1,558.6 91.2,559.9 94.4,557.3 97.5,558.3 100.6,559.2 103.7,560.0 106.8,557.6 109.9,555.4 113.1,553.5 116.2,551.6 119.3,550.0 122.4,547.9 125.5,545.9 128.6,543.9 131.8,545.4 134.9,546.9 138.0,547.4 141.1,547.9 144.2,550.0 147.3,550.5 150.5,550.9 153.6,549.1 156.7,547.0 159.8,549.5 162.9,550.9 166.0,552.3 169.2,553.7 172.3,556.3 175.4,558.8 178.5,559.0 181.6,558.8 184.8,559.5 187.9,560.1 191.0,560.1 194.1,560.5 197.2,559.5 200.3,556.8 203.5,554.5 206.6,552.6 209.7,550.7 212.8,549.0 215.9,547.1 219.0,544.6 222.2,542.3 225.3,539.8 228.4,535.8 231.5,532.5 234.6,528.4 237.7,532.1 240.9,532.7 244.0,533.4 247.1,534.1 250.2,538.7 253.3,542.9 256.4,546.2 259.6,549.2 262.7,551.1 265.8,550.6 268.9,550.1 272.0,551.0 275.1,551.7 278.3,553.0 281.4,553.3 284.5,549.9 287.6,546.9 290.7,544.1 293.8,540.5 297.0,536.4 300.1,531.4 303.2,526.7 306.3,523.9 309.4,521.1 312.5,516.2 315.7,515.8 318.8,514.6 321.9,513.3 325.0,511.9 328.1,514.1 331.3,520.2 334.4,524.5 337.5,528.5 340.6,532.4 343.7,534.3 346.8,535.9 350.0,535.3 353.1,536.2 356.2,537.2 359.3,536.9 362.4,536.8 365.5,535.5 368.7,537.0 371.8,538.5 374.9,539.8 378.0,541.1 381.1,542.0 384.2,544.0 387.4,545.7 390.5,546.9 393.6,547.2 396.7,547.8 399.8,548.7 402.9,549.3 406.1,553.0 409.2,555.2 412.3,557.3 415.4,557.6 418.5,557.8 421.6,559.5 424.8,560.4 427.9,561.6 431.0,562.6 434.1,563.6 437.2,564.9 440.3,566.2 443.5,564.1 446.6,559.9 449.7,551.8 452.8,544.2 455.9,537.0 459.0,533.8 462.2,530.1 465.3,525.6 468.4,521.3 471.5,522.0 474.6,522.7 477.7,521.8 480.9,523.4 484.0,525.5 487.1,527.4 490.2,529.2 493.3,531.7 496.5,534.1 499.6,537.8 502.7,541.3 505.8,544.7 508.9,547.9 512.0,550.8 515.2,552.9 518.3,552.9 521.4,552.7 524.5,553.8 527.6,555.0 530.7,556.1 533.9,556.4 537.0,555.8 540.1,553.3 543.2,555.8 546.3,553.2 549.4,550.9 552.6,549.9 555.7,549.4 558.8,548.9 561.9,546.3 565.0,543.7 568.1,538.9 571.3,534.1 574.4,527.7 577.5,521.3 580.6,514.0 583.7,507.3 586.8,502.2 590.0,497.0 593.1,496.0 596.2,497.6 599.3,499.0 602.4,500.3 605.5,501.5 608.7,502.0 611.8,500.4 614.9,498.9 618.0,497.6 621.1,497.1 624.2,497.7 627.4,497.4 630.5,496.4 633.6,499.8 636.7,502.5 639.8,505.0 643.0,507.2 646.1,509.5 649.2,511.4 652.3,513.1 655.4,514.5 658.5,515.1 661.7,515.6 664.8,515.5 667.9,515.0 671.0,510.1 674.1,505.2 677.2,507.0 680.4,509.0 683.5,512.8 686.6,517.3 689.7,521.5 692.8,526.3 695.9,530.7 699.1,535.5 702.2,538.4 705.3,541.6 708.4,543.2 711.5,542.7 714.6,542.2 717.8,541.7 720.9,540.0 724.0,539.0 727.1,538.1 730.2,536.9 733.3,540.8 736.5,544.4 739.6,546.6 742.7,543.7 745.8,539.9 748.9,536.3 752.0,531.5 755.2,526.0 758.3,521.0 761.4,516.7 764.5,510.9 767.6,505.5 770.7,500.5 773.9,495.5 777.0,490.2 780.1,483.7 783.2,476.6 786.3,469.9 789.4,464.0 792.6,458.3 795.7,452.9 798.8,447.4 801.9,442.1 805.0,437.0 808.2,431.9 811.3,426.9 814.4,425.5 817.5,428.5 820.6,431.4 823.7,434.1 826.9,436.0 830.0,437.9 833.1,438.9 836.2,439.7 839.3,438.6 842.4,439.7 845.6,440.8 848.7,441.8 851.8,442.5 854.9,441.9 858.0,441.0 861.1,440.3 864.3,439.5 867.4,438.8 870.5,437.9 873.6,435.9 876.7,433.7 879.8,431.0 883.0,428.1 886.1,427.9 889.2,428.7 892.3,431.0 895.4,437.0 898.5,442.6 901.7,448.0 904.8,452.2 907.9,456.1 911.0,461.0 914.1,467.6 917.2,473.7 920.4,479.3 923.5,484.5 926.6,491.8 929.7,498.7 932.8,504.4 935.9,509.9 939.1,513.7 942.2,517.2 945.3,519.4" fill="none" stroke="#dc4f84" stroke-width="1.3" stroke-linejoin="round"/>
<rect x="0" y="405" width="1127" height="1" fill="#e5e5e5"/>
<rect x="0" y="638" width="1127" height="1" fill="#e5e5e5"/>
<rect x="0" y="677" width="1127" height="3" fill="#e6e6e6"/>
<rect x="0" y="5" width="696" height="23.8" fill="rgba(255,255,255,0.55)"/>
<rect x="0" y="71" width="458" height="23.7" fill="rgba(255,255,255,0.55)"/>
<circle cx="16" cy="17" r="9" fill="#3f5293"/>
<path d="M16 10.6L12.2 17.1L16 19.3L19.8 17.1Z" fill="#dfe4f4"/><path d="M16 20.1L12.2 17.9L16 23.3L19.8 17.9Z" fill="#c5cdea"/><path d="M16 10.6L16 19.3L19.8 17.1Z" fill="#b9c3e6"/>
<text x="29.3" y="22.9" font-size="16" fill="#131722" textLength="265.7" lengthAdjust="spacingAndGlyphs">Ethereum / U.S. Dollar · 4h · Bitstamp</text>
<circle cx="312.9" cy="17.2" r="9" fill="#dcece7"/><circle cx="312.9" cy="17.2" r="4.6" fill="#4f9b83"/>
<text x="330.9" y="22.0" font-size="13.6" fill="#131722">O</text>
<text x="341.7" y="22.0" font-size="13.6" fill="#e0555a" textLength="47.4" lengthAdjust="spacingAndGlyphs">2,064.1</text>
<text x="396.5" y="22.0" font-size="13.6" fill="#131722">H</text>
<text x="407" y="22.0" font-size="13.6" fill="#e0555a" textLength="48.2" lengthAdjust="spacingAndGlyphs">2,068.7</text>
<text x="462.9" y="22.0" font-size="13.6" fill="#131722">L</text>
<text x="470.9" y="22.0" font-size="13.6" fill="#e0555a" textLength="48.2" lengthAdjust="spacingAndGlyphs">2,033.5</text>
<text x="526.2" y="22.0" font-size="13.6" fill="#131722">C</text>
<text x="536.2" y="22.0" font-size="13.6" fill="#e0555a" textLength="47.7" lengthAdjust="spacingAndGlyphs">2,049.1</text>
<text x="592.4" y="22.0" font-size="13.6" fill="#e0555a" textLength="96.5" lengthAdjust="spacingAndGlyphs">−15.6 (−0.76%)</text>
<rect x="6.7" y="33.8" width="68.6" height="32.5" rx="6" fill="#ffffff" stroke="#e0555a" stroke-width="1"/>
<text x="17.6" y="46.9" font-size="12.3" fill="#e0555a" textLength="46.3" lengthAdjust="spacingAndGlyphs" stroke="#e0555a" stroke-width="0.25">2,049.1</text>
<text x="27.9" y="60.9" font-size="10.6" fill="#e0555a" textLength="25.9" lengthAdjust="spacingAndGlyphs">SELL</text>
<text x="85" y="53.8" font-size="10.2" fill="#131722" textLength="15.3" lengthAdjust="spacingAndGlyphs">0.0</text>
<rect x="109.5" y="33.8" width="68.6" height="32.5" rx="6" fill="#ffffff" stroke="#2962ff" stroke-width="1"/>
<text x="120.6" y="47" font-size="12.3" fill="#2962ff" textLength="46.6" lengthAdjust="spacingAndGlyphs" stroke="#2962ff" stroke-width="0.25">2,049.1</text>
<text x="132.6" y="60.7" font-size="10.6" fill="#2962ff" textLength="22.2" lengthAdjust="spacingAndGlyphs">BUY</text>
<text x="7.5" y="87.5" font-size="12.3" fill="#131722" textLength="25.1" lengthAdjust="spacingAndGlyphs">DKC</text>
<text x="37.3" y="87.5" font-size="12.3" fill="#787b86" textLength="84.5" lengthAdjust="spacingAndGlyphs">20 20 1 close</text>
<text x="132" y="87.5" font-size="12.3" fill="#2962ff" textLength="46.9" lengthAdjust="spacingAndGlyphs">1,863.8</text>
<text x="186.3" y="87.5" font-size="12.3" fill="#2962ff" textLength="47.9" lengthAdjust="spacingAndGlyphs">2,149.9</text>
<text x="241.9" y="87.5" font-size="12.3" fill="#e8843c" textLength="47.3" lengthAdjust="spacingAndGlyphs">2,006.8</text>
<text x="297.3" y="87.5" font-size="12.3" fill="#2962ff" textLength="48.4" lengthAdjust="spacingAndGlyphs">2,142.9</text>
<text x="353.3" y="87.5" font-size="12.3" fill="#2962ff" textLength="46.2" lengthAdjust="spacingAndGlyphs">2,080.1</text>
<text x="408" y="87.5" font-size="12.3" fill="#2962ff" textLength="47.8" lengthAdjust="spacingAndGlyphs">2,017.3</text>
<rect x="7" y="99" width="27.5" height="19" rx="3" fill="rgba(255,255,255,0.8)" stroke="#d9dbe0" stroke-width="1"/>
<path d="M16.5 110.5L20.5 106.5L24.5 110.5" stroke="#131722" stroke-width="1.4" fill="none"/>
<text x="7.6" y="427.4" font-size="12.8" fill="#131722" textLength="22.4" lengthAdjust="spacingAndGlyphs">DMI</text>
<text x="35.8" y="427.4" font-size="12.8" fill="#787b86" textLength="34.6" lengthAdjust="spacingAndGlyphs">14 14</text>
<text x="80.3" y="427.4" font-size="12.8" fill="#dd5468" textLength="52.3" lengthAdjust="spacingAndGlyphs">31.0938</text>
<text x="140.7" y="427.4" font-size="12.8" fill="#2f6bf0" textLength="51.9" lengthAdjust="spacingAndGlyphs">16.9896</text>
<text x="200.2" y="427.4" font-size="12.8" fill="#e8843c" textLength="52.4" lengthAdjust="spacingAndGlyphs">23.4559</text>
<rect x="1064.5" y="5.5" width="70" height="25" rx="4" fill="#ffffff" stroke="#e0e3eb" stroke-width="1"/>
<text x="1068.3" y="22" font-size="11.5" fill="#131722" textLength="24.3" lengthAdjust="spacingAndGlyphs">USD</text>
<path d="M1118 16.5L1120.3 18.8L1122.6 16.5" stroke="#131722" stroke-width="1.2" fill="none"/>
<text x="1069.6" y="46.1" font-size="12.8" fill="#131722" textLength="44.6" lengthAdjust="spacingAndGlyphs">3,400.0</text>
<text x="1069.6" y="85.9" font-size="12.8" fill="#131722" textLength="44.6" lengthAdjust="spacingAndGlyphs">3,200.0</text>
<text x="1069.6" y="125.8" font-size="12.8" fill="#131722" textLength="44.6" lengthAdjust="spacingAndGlyphs">3,000.0</text>
<text x="1069.6" y="165.6" font-size="12.8" fill="#131722" textLength="44.6" lengthAdjust="spacingAndGlyphs">2,800.0</text>
<text x="1069.6" y="205.5" font-size="12.8" fill="#131722" textLength="44.6" lengthAdjust="spacingAndGlyphs">2,600.0</text>
<text x="1069.6" y="245.3" font-size="12.8" fill="#131722" textLength="44.6" lengthAdjust="spacingAndGlyphs">2,400.0</text>
<text x="1069.6" y="403.2" font-size="12.8" fill="#131722" textLength="45.2" lengthAdjust="spacingAndGlyphs">1,600.0</text>
<rect x="1061" y="252.2" width="59.8" height="50.4" rx="2" fill="#2962ff"/>
<text x="1069.9" y="263.9" font-size="12.3" fill="#ffffff" textLength="44.4" lengthAdjust="spacingAndGlyphs">2,149.9</text>
<text x="1069.9" y="281.0" font-size="12.3" fill="#ffffff" textLength="44.4" lengthAdjust="spacingAndGlyphs">2,142.9</text>
<text x="1069.9" y="297.4" font-size="12.3" fill="#ffffff" textLength="44.4" lengthAdjust="spacingAndGlyphs">2,080.1</text>
<rect x="1003" y="303.4" width="56.8" height="16.2" rx="2" fill="#76c8d6"/>
<text x="1007.4" y="315.6" font-size="11.5" fill="#131722" textLength="48.1" lengthAdjust="spacingAndGlyphs">ETHUSD</text>
<rect x="1061" y="303.4" width="66" height="30" fill="#76c8d6"/>
<text x="1069.6" y="315.0" font-size="12.3" fill="#131722" textLength="44" lengthAdjust="spacingAndGlyphs">2,049.1</text>
<text x="1069.6" y="328.8" font-size="12.3" fill="#1e2a33" textLength="51.4" lengthAdjust="spacingAndGlyphs">03:19:51</text>
<rect x="1061" y="334.2" width="59.8" height="16.3" rx="2" fill="#2962ff"/>
<text x="1069.9" y="346.6" font-size="12.3" fill="#ffffff" textLength="44.4" lengthAdjust="spacingAndGlyphs">2,017.3</text>
<rect x="1061" y="350.5" width="59.8" height="16.7" rx="2" fill="#e6843f"/>
<text x="1069.9" y="363.1" font-size="12.3" fill="#ffffff" textLength="44.4" lengthAdjust="spacingAndGlyphs">2,006.8</text>
<rect x="1061" y="368" width="59.8" height="16.6" rx="2" fill="#2962ff"/>
<text x="1069.9" y="380.5" font-size="12.3" fill="#ffffff" textLength="44.4" lengthAdjust="spacingAndGlyphs">1,863.8</text>
<text x="1069.3" y="453.5" font-size="12.8" fill="#131722" textLength="49.5" lengthAdjust="spacingAndGlyphs">60.0000</text>
<text x="1069.3" y="502.9" font-size="12.8" fill="#131722" textLength="49" lengthAdjust="spacingAndGlyphs">40.0000</text>
<text x="1069.3" y="601.8" font-size="12.8" fill="#131722" textLength="41.8" lengthAdjust="spacingAndGlyphs">0.0000</text>
<rect x="1061.2" y="512" width="63.6" height="16.7" rx="2" fill="#dd5c66"/>
<text x="1069.8" y="524.6" font-size="12.3" fill="#ffffff" textLength="48.3" lengthAdjust="spacingAndGlyphs">31.0938</text>
<rect x="1061.2" y="531.4" width="63.6" height="16.1" rx="2" fill="#e6783f"/>
<text x="1069.8" y="543.7" font-size="12.3" fill="#ffffff" textLength="48.3" lengthAdjust="spacingAndGlyphs">23.4559</text>
<rect x="1061.2" y="547.5" width="63.6" height="17.3" rx="2" fill="#2d6ef5"/>
<text x="1069.8" y="560.4" font-size="12.3" fill="#ffffff" textLength="48.3" lengthAdjust="spacingAndGlyphs">16.9896</text>
<path d="M936.26 389.30A9.4 9.4 0 0 1 948.41 383.37M954.36 390.09A9.4 9.4 0 0 1 938.21 398.49" fill="none" stroke="#8c45b8" stroke-width="1.5" stroke-linecap="round"/>
<path d="M947.9 386.9L941.2 393.2L945.5 393.2L942.1 398.1L949.5 391.4L945.4 391.4Z" fill="#8c45b8"/>
<path d="M934.9 391.2Q935.8 395.0 939.4 395.9Q935.8 396.79999999999995 934.9 400.59999999999997Q934.0 396.79999999999995 930.4 395.9Q934.0 395.0 934.9 391.2Z" fill="#6464ff"/>
<circle cx="952.4" cy="385.4" r="2.5" fill="#e05a50"/>
<circle cx="966.9" cy="392.0" r="10" fill="#ffffff" stroke="#e05a5a" stroke-width="1.8"/>
<clipPath id="c966"><circle cx="966.9" cy="392.0" r="7.8"/></clipPath>
<g clip-path="url(#c966)"><rect x="958.9" y="384.0" width="16" height="16" fill="#ffffff"/><rect x="958.9" y="384.6" width="16" height="3.0" fill="#e05a50"/><rect x="958.9" y="390.2" width="16" height="3.6" fill="#e05a50"/><rect x="958.9" y="396.2" width="16" height="3.8" fill="#e05a50"/><rect x="958.9" y="384.0" width="10.1" height="9.8" fill="#2f86e0"/><rect x="960.6" y="385.9" width="1" height="1" fill="#d8e8fa"/><rect x="960.6" y="388.3" width="1" height="1" fill="#d8e8fa"/><rect x="960.6" y="391.0" width="1" height="1" fill="#d8e8fa"/><rect x="963.0" y="385.9" width="1" height="1" fill="#d8e8fa"/><rect x="963.0" y="388.3" width="1" height="1" fill="#d8e8fa"/><rect x="963.0" y="391.0" width="1" height="1" fill="#d8e8fa"/><rect x="965.9" y="385.9" width="1" height="1" fill="#d8e8fa"/><rect x="965.9" y="388.3" width="1" height="1" fill="#d8e8fa"/><rect x="965.9" y="391.0" width="1" height="1" fill="#d8e8fa"/></g>
<circle cx="985.9" cy="392.0" r="10" fill="#ffffff" stroke="#e05a5a" stroke-width="1.8"/>
<clipPath id="c985"><circle cx="985.9" cy="392.0" r="7.8"/></clipPath>
<g clip-path="url(#c985)"><rect x="977.9" y="384.0" width="16" height="16" fill="#ffffff"/><rect x="977.9" y="384.6" width="16" height="3.0" fill="#e05a50"/><rect x="977.9" y="390.2" width="16" height="3.6" fill="#e05a50"/><rect x="977.9" y="396.2" width="16" height="3.8" fill="#e05a50"/><rect x="977.9" y="384.0" width="10.1" height="9.8" fill="#2f86e0"/><rect x="979.6" y="385.9" width="1" height="1" fill="#d8e8fa"/><rect x="979.6" y="388.3" width="1" height="1" fill="#d8e8fa"/><rect x="979.6" y="391.0" width="1" height="1" fill="#d8e8fa"/><rect x="982.0" y="385.9" width="1" height="1" fill="#d8e8fa"/><rect x="982.0" y="388.3" width="1" height="1" fill="#d8e8fa"/><rect x="982.0" y="391.0" width="1" height="1" fill="#d8e8fa"/><rect x="984.9" y="385.9" width="1" height="1" fill="#d8e8fa"/><rect x="984.9" y="388.3" width="1" height="1" fill="#d8e8fa"/><rect x="984.9" y="391.0" width="1" height="1" fill="#d8e8fa"/></g>
<circle cx="1004.8" cy="392.0" r="10" fill="#ffffff" stroke="#e05a5a" stroke-width="1.8"/>
<clipPath id="c1004"><circle cx="1004.8" cy="392.0" r="7.8"/></clipPath>
<g clip-path="url(#c1004)"><rect x="996.8" y="384.0" width="16" height="16" fill="#ffffff"/><rect x="996.8" y="384.6" width="16" height="3.0" fill="#e05a50"/><rect x="996.8" y="390.2" width="16" height="3.6" fill="#e05a50"/><rect x="996.8" y="396.2" width="16" height="3.8" fill="#e05a50"/><rect x="996.8" y="384.0" width="10.1" height="9.8" fill="#2f86e0"/><rect x="998.5" y="385.9" width="1" height="1" fill="#d8e8fa"/><rect x="998.5" y="388.3" width="1" height="1" fill="#d8e8fa"/><rect x="998.5" y="391.0" width="1" height="1" fill="#d8e8fa"/><rect x="1000.9" y="385.9" width="1" height="1" fill="#d8e8fa"/><rect x="1000.9" y="388.3" width="1" height="1" fill="#d8e8fa"/><rect x="1000.9" y="391.0" width="1" height="1" fill="#d8e8fa"/><rect x="1003.8" y="385.9" width="1" height="1" fill="#d8e8fa"/><rect x="1003.8" y="388.3" width="1" height="1" fill="#d8e8fa"/><rect x="1003.8" y="391.0" width="1" height="1" fill="#d8e8fa"/></g>
<circle cx="1023.8" cy="392.0" r="10" fill="#ffffff" stroke="#e05a5a" stroke-width="1.8"/>
<clipPath id="c1023"><circle cx="1023.8" cy="392.0" r="7.8"/></clipPath>
<g clip-path="url(#c1023)"><rect x="1015.8" y="384.0" width="16" height="16" fill="#ffffff"/><rect x="1015.8" y="384.6" width="16" height="3.0" fill="#e05a50"/><rect x="1015.8" y="390.2" width="16" height="3.6" fill="#e05a50"/><rect x="1015.8" y="396.2" width="16" height="3.8" fill="#e05a50"/><rect x="1015.8" y="384.0" width="10.1" height="9.8" fill="#2f86e0"/><rect x="1017.5" y="385.9" width="1" height="1" fill="#d8e8fa"/><rect x="1017.5" y="388.3" width="1" height="1" fill="#d8e8fa"/><rect x="1017.5" y="391.0" width="1" height="1" fill="#d8e8fa"/><rect x="1019.9" y="385.9" width="1" height="1" fill="#d8e8fa"/><rect x="1019.9" y="388.3" width="1" height="1" fill="#d8e8fa"/><rect x="1019.9" y="391.0" width="1" height="1" fill="#d8e8fa"/><rect x="1022.8" y="385.9" width="1" height="1" fill="#d8e8fa"/><rect x="1022.8" y="388.3" width="1" height="1" fill="#d8e8fa"/><rect x="1022.8" y="391.0" width="1" height="1" fill="#d8e8fa"/></g>
<text x="-2.9" y="629.2" font-size="12.2" fill="#131722" textLength="14.7" lengthAdjust="spacingAndGlyphs">21</text>
<text x="53.2" y="629.2" font-size="12.2" fill="#131722" textLength="14.7" lengthAdjust="spacingAndGlyphs">24</text>
<text x="109.3" y="629.2" font-size="12.2" fill="#131722" textLength="14.7" lengthAdjust="spacingAndGlyphs">27</text>
<text x="195.4" y="629.2" font-size="12.2" fill="#131722" textLength="29.3" lengthAdjust="spacingAndGlyphs" font-weight="bold">2026</text>
<text x="262.5" y="629.2" font-size="12.2" fill="#131722" textLength="7.3" lengthAdjust="spacingAndGlyphs">4</text>
<text x="318.6" y="629.2" font-size="12.2" fill="#131722" textLength="7.3" lengthAdjust="spacingAndGlyphs">7</text>
<text x="371.1" y="629.2" font-size="12.2" fill="#131722" textLength="14.7" lengthAdjust="spacingAndGlyphs">10</text>
<text x="427.2" y="629.2" font-size="12.2" fill="#131722" textLength="14.7" lengthAdjust="spacingAndGlyphs">13</text>
<text x="483.3" y="629.2" font-size="12.2" fill="#131722" textLength="14.7" lengthAdjust="spacingAndGlyphs">16</text>
<text x="539.4" y="629.2" font-size="12.2" fill="#131722" textLength="14.7" lengthAdjust="spacingAndGlyphs">19</text>
<text x="595.5" y="629.2" font-size="12.2" fill="#131722" textLength="14.7" lengthAdjust="spacingAndGlyphs">22</text>
<text x="651.6" y="629.2" font-size="12.2" fill="#131722" textLength="14.7" lengthAdjust="spacingAndGlyphs">25</text>
<text x="707.7" y="629.2" font-size="12.2" fill="#131722" textLength="14.7" lengthAdjust="spacingAndGlyphs">28</text>
<text x="778.4" y="629.2" font-size="12.2" fill="#131722" textLength="22.7" lengthAdjust="spacingAndGlyphs">Feb</text>
<text x="842.2" y="629.2" font-size="12.2" fill="#131722" textLength="7.3" lengthAdjust="spacingAndGlyphs">4</text>
<text x="898.3" y="629.2" font-size="12.2" fill="#131722" textLength="7.3" lengthAdjust="spacingAndGlyphs">7</text>
<text x="950.8" y="629.2" font-size="12.2" fill="#131722" textLength="14.7" lengthAdjust="spacingAndGlyphs">10</text>
<text x="1006.9" y="629.2" font-size="12.2" fill="#131722" textLength="14.7" lengthAdjust="spacingAndGlyphs">13</text>
<path d="M1092.4 618.2h7.8l3.9 6.2l-3.9 6.2h-7.8l-3.9-6.2z" fill="none" stroke="#131722" stroke-width="1.2"/><circle cx="1096.3" cy="624.4" r="2.2" fill="none" stroke="#131722" stroke-width="1.2"/>
<text x="13.6" y="663.9" font-size="14.2" fill="#131722" textLength="16.6" lengthAdjust="spacingAndGlyphs">1D</text>
<text x="43.7" y="663.9" font-size="14.2" fill="#131722" textLength="17.4" lengthAdjust="spacingAndGlyphs">5D</text>
<text x="75.4" y="663.9" font-size="14.2" fill="#131722" textLength="18.9" lengthAdjust="spacingAndGlyphs">1M</text>
<text x="107.8" y="663.9" font-size="14.2" fill="#131722" textLength="19.6" lengthAdjust="spacingAndGlyphs">3M</text>
<text x="140.3" y="663.9" font-size="14.2" fill="#131722" textLength="19.9" lengthAdjust="spacingAndGlyphs">6M</text>
<text x="173.6" y="663.9" font-size="14.2" fill="#131722" textLength="26.3" lengthAdjust="spacingAndGlyphs">YTD</text>
<text x="214.3" y="663.9" font-size="14.2" fill="#131722" textLength="16" lengthAdjust="spacingAndGlyphs">1Y</text>
<text x="243.4" y="663.9" font-size="14.2" fill="#131722" textLength="16.4" lengthAdjust="spacingAndGlyphs">5Y</text>
<text x="273.1" y="663.9" font-size="14.2" fill="#131722" textLength="15.2" lengthAdjust="spacingAndGlyphs">All</text>
<rect x="299.3" y="647" width="1" height="21.5" fill="#e0e3eb"/>
<g fill="none" stroke="#131722" stroke-width="1.2"><path d="M317.5 650.5h-3.5v6M314 653.5h17.5M324 664.8h6.5a1 1 0 0 0 1-1v-12.3a1 1 0 0 0-1-1h-10.5"/><path d="M318.5 648.3v4M327.5 648.3v4M313 661.2h8.5M318.5 658.2l3 3l-3 3"/></g>
<text x="1028.4" y="662.5" font-size="14.3" fill="#131722" textLength="92.8" lengthAdjust="spacingAndGlyphs">08:40:09 UTC</text>
<path d="M10 581h11.8v14.8h-5.8v-9h-6z" fill="#131722"/><circle cx="27" cy="583.9" r="3" fill="#131722"/><path d="M33 581h6.7l-5.9 14.8h-6.6z" fill="#131722"/>
<text x="47.1" y="595.6" font-size="20" fill="#131722" textLength="120.3" lengthAdjust="spacingAndGlyphs" font-weight="bold">TradingView</text>
</svg>
</body></html>
